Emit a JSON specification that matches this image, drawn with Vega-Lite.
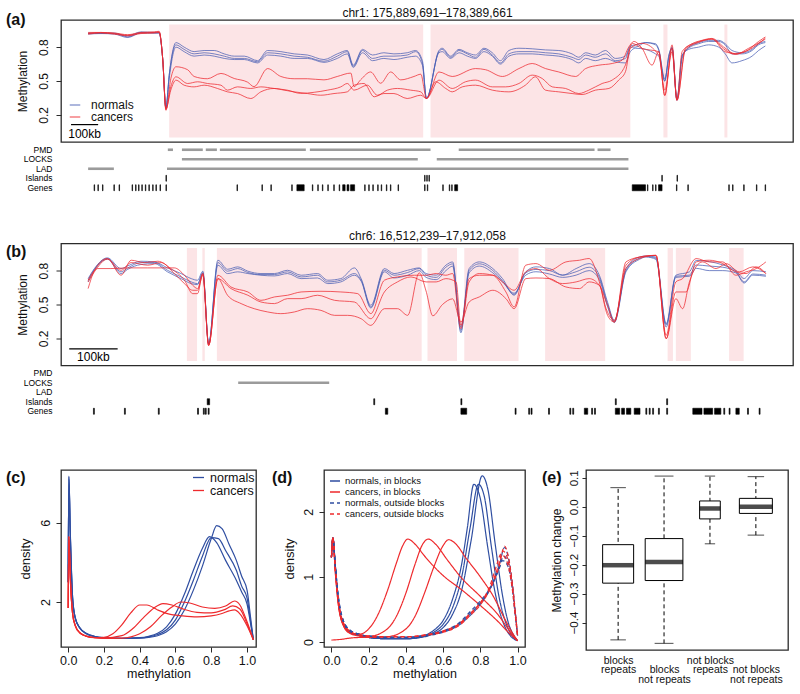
{
"$schema":"https://vega.github.io/schema/vega-lite/v6.json",
"background":"white",
"padding":5,
"config":{
 "font":"Liberation Sans",
 "view":{"stroke":"#2b2b2b","strokeWidth":1.3},
 "axis":{"domain":false,"grid":false,"ticks":true,"tickColor":"#2b2b2b","tickSize":5,"labelColor":"#111","titleColor":"#111","labelFontSize":12,"titleFontSize":12,"titleFontWeight":"normal","labelPadding":3},
 "axisY":{"labelOverlap":false},
 "legend":{"labelColor":"#111","padding":0,"rowPadding":0,"titlePadding":0},
 "title":{"color":"#111","fontWeight":"normal","font":"Liberation Sans"}
},
"datasets":{
"a_lines":[
{"s":"n1","g":"normals","x":0,"y":0.92},{"s":"n1","g":"normals","x":47,"y":0.925},{"s":"n1","g":"normals","x":97,"y":0.92},{"s":"n1","g":"normals","x":146,"y":0.9},{"s":"n1","g":"normals","x":195,"y":0.935},{"s":"n1","g":"normals","x":244,"y":0.93},{"s":"n1","g":"normals","x":262,"y":0.93},{"s":"n1","g":"normals","x":275,"y":0.7},{"s":"n1","g":"normals","x":287,"y":0.26},{"s":"n1","g":"normals","x":299,"y":0.55},{"s":"n1","g":"normals","x":324,"y":0.84},{"s":"n1","g":"normals","x":354,"y":0.8},{"s":"n1","g":"normals","x":391,"y":0.76},{"s":"n1","g":"normals","x":428,"y":0.77},{"s":"n1","g":"normals","x":465,"y":0.77},{"s":"n1","g":"normals","x":502,"y":0.74},{"s":"n1","g":"normals","x":539,"y":0.72},{"s":"n1","g":"normals","x":576,"y":0.72},{"s":"n1","g":"normals","x":625,"y":0.68},{"s":"n1","g":"normals","x":662,"y":0.77},{"s":"n1","g":"normals","x":711,"y":0.76},{"s":"n1","g":"normals","x":760,"y":0.74},{"s":"n1","g":"normals","x":809,"y":0.73},{"s":"n1","g":"normals","x":870,"y":0.69},{"s":"n1","g":"normals","x":919,"y":0.74},{"s":"n1","g":"normals","x":956,"y":0.77},{"s":"n1","g":"normals","x":978,"y":0.64},{"s":"n1","g":"normals","x":1012,"y":0.78},{"s":"n1","g":"normals","x":1049,"y":0.73},{"s":"n1","g":"normals","x":1091,"y":0.75},{"s":"n1","g":"normals","x":1128,"y":0.74},{"s":"n1","g":"normals","x":1177,"y":0.75},{"s":"n1","g":"normals","x":1208,"y":0.77},{"s":"n1","g":"normals","x":1233,"y":0.68},{"s":"n1","g":"normals","x":1248,"y":0.345},{"s":"n1","g":"normals","x":1294,"y":0.77},{"s":"n1","g":"normals","x":1306,"y":0.79},{"s":"n1","g":"normals","x":1337,"y":0.72},{"s":"n1","g":"normals","x":1368,"y":0.78},{"s":"n1","g":"normals","x":1399,"y":0.75},{"s":"n1","g":"normals","x":1429,"y":0.73},{"s":"n1","g":"normals","x":1460,"y":0.79},{"s":"n1","g":"normals","x":1491,"y":0.75},{"s":"n1","g":"normals","x":1521,"y":0.68},{"s":"n1","g":"normals","x":1552,"y":0.77},{"s":"n1","g":"normals","x":1589,"y":0.79},{"s":"n1","g":"normals","x":1638,"y":0.785},{"s":"n1","g":"normals","x":1687,"y":0.775},{"s":"n1","g":"normals","x":1736,"y":0.77},{"s":"n1","g":"normals","x":1785,"y":0.74},{"s":"n1","g":"normals","x":1810,"y":0.71},{"s":"n1","g":"normals","x":1835,"y":0.75},{"s":"n1","g":"normals","x":1871,"y":0.73},{"s":"n1","g":"normals","x":1908,"y":0.77},{"s":"n1","g":"normals","x":1945,"y":0.7},{"s":"n1","g":"normals","x":1982,"y":0.72},{"s":"n1","g":"normals","x":2000,"y":0.81},{"s":"n1","g":"normals","x":2019,"y":0.82},{"s":"n1","g":"normals","x":2056,"y":0.84},{"s":"n1","g":"normals","x":2093,"y":0.83},{"s":"n1","g":"normals","x":2105,"y":0.78},{"s":"n1","g":"normals","x":2127,"y":0.52},{"s":"n1","g":"normals","x":2142,"y":0.7},{"s":"n1","g":"normals","x":2154,"y":0.79},{"s":"n1","g":"normals","x":2172,"y":0.33},{"s":"n1","g":"normals","x":2191,"y":0.7},{"s":"n1","g":"normals","x":2215,"y":0.8},{"s":"n1","g":"normals","x":2252,"y":0.84},{"s":"n1","g":"normals","x":2289,"y":0.86},{"s":"n1","g":"normals","x":2326,"y":0.86},{"s":"n1","g":"normals","x":2350,"y":0.83},{"s":"n1","g":"normals","x":2375,"y":0.77},{"s":"n1","g":"normals","x":2412,"y":0.75},{"s":"n1","g":"normals","x":2449,"y":0.78},{"s":"n1","g":"normals","x":2473,"y":0.83},{"s":"n1","g":"normals","x":2498,"y":0.85},
{"s":"n2","g":"normals","x":0,"y":0.925},{"s":"n2","g":"normals","x":47,"y":0.92},{"s":"n2","g":"normals","x":97,"y":0.925},{"s":"n2","g":"normals","x":146,"y":0.89},{"s":"n2","g":"normals","x":195,"y":0.93},{"s":"n2","g":"normals","x":244,"y":0.925},{"s":"n2","g":"normals","x":262,"y":0.925},{"s":"n2","g":"normals","x":275,"y":0.7},{"s":"n2","g":"normals","x":287,"y":0.26},{"s":"n2","g":"normals","x":299,"y":0.55},{"s":"n2","g":"normals","x":324,"y":0.82},{"s":"n2","g":"normals","x":354,"y":0.78},{"s":"n2","g":"normals","x":391,"y":0.74},{"s":"n2","g":"normals","x":428,"y":0.75},{"s":"n2","g":"normals","x":465,"y":0.74},{"s":"n2","g":"normals","x":502,"y":0.72},{"s":"n2","g":"normals","x":539,"y":0.7},{"s":"n2","g":"normals","x":576,"y":0.7},{"s":"n2","g":"normals","x":625,"y":0.67},{"s":"n2","g":"normals","x":662,"y":0.75},{"s":"n2","g":"normals","x":711,"y":0.74},{"s":"n2","g":"normals","x":760,"y":0.72},{"s":"n2","g":"normals","x":809,"y":0.71},{"s":"n2","g":"normals","x":870,"y":0.675},{"s":"n2","g":"normals","x":919,"y":0.72},{"s":"n2","g":"normals","x":956,"y":0.76},{"s":"n2","g":"normals","x":978,"y":0.63},{"s":"n2","g":"normals","x":1012,"y":0.77},{"s":"n2","g":"normals","x":1049,"y":0.7},{"s":"n2","g":"normals","x":1091,"y":0.72},{"s":"n2","g":"normals","x":1128,"y":0.72},{"s":"n2","g":"normals","x":1177,"y":0.73},{"s":"n2","g":"normals","x":1208,"y":0.76},{"s":"n2","g":"normals","x":1233,"y":0.66},{"s":"n2","g":"normals","x":1248,"y":0.345},{"s":"n2","g":"normals","x":1294,"y":0.76},{"s":"n2","g":"normals","x":1306,"y":0.78},{"s":"n2","g":"normals","x":1337,"y":0.71},{"s":"n2","g":"normals","x":1368,"y":0.77},{"s":"n2","g":"normals","x":1399,"y":0.74},{"s":"n2","g":"normals","x":1429,"y":0.71},{"s":"n2","g":"normals","x":1460,"y":0.78},{"s":"n2","g":"normals","x":1491,"y":0.73},{"s":"n2","g":"normals","x":1521,"y":0.66},{"s":"n2","g":"normals","x":1552,"y":0.74},{"s":"n2","g":"normals","x":1589,"y":0.76},{"s":"n2","g":"normals","x":1638,"y":0.76},{"s":"n2","g":"normals","x":1687,"y":0.75},{"s":"n2","g":"normals","x":1736,"y":0.74},{"s":"n2","g":"normals","x":1785,"y":0.71},{"s":"n2","g":"normals","x":1810,"y":0.69},{"s":"n2","g":"normals","x":1835,"y":0.73},{"s":"n2","g":"normals","x":1871,"y":0.71},{"s":"n2","g":"normals","x":1908,"y":0.74},{"s":"n2","g":"normals","x":1945,"y":0.68},{"s":"n2","g":"normals","x":1982,"y":0.7},{"s":"n2","g":"normals","x":2000,"y":0.8},{"s":"n2","g":"normals","x":2019,"y":0.8},{"s":"n2","g":"normals","x":2056,"y":0.84},{"s":"n2","g":"normals","x":2093,"y":0.82},{"s":"n2","g":"normals","x":2105,"y":0.77},{"s":"n2","g":"normals","x":2127,"y":0.5},{"s":"n2","g":"normals","x":2142,"y":0.72},{"s":"n2","g":"normals","x":2154,"y":0.8},{"s":"n2","g":"normals","x":2172,"y":0.33},{"s":"n2","g":"normals","x":2191,"y":0.72},{"s":"n2","g":"normals","x":2215,"y":0.79},{"s":"n2","g":"normals","x":2252,"y":0.83},{"s":"n2","g":"normals","x":2289,"y":0.85},{"s":"n2","g":"normals","x":2326,"y":0.85},{"s":"n2","g":"normals","x":2350,"y":0.82},{"s":"n2","g":"normals","x":2375,"y":0.74},{"s":"n2","g":"normals","x":2412,"y":0.74},{"s":"n2","g":"normals","x":2449,"y":0.77},{"s":"n2","g":"normals","x":2473,"y":0.82},{"s":"n2","g":"normals","x":2498,"y":0.84},
{"s":"n3","g":"normals","x":0,"y":0.915},{"s":"n3","g":"normals","x":47,"y":0.92},{"s":"n3","g":"normals","x":97,"y":0.915},{"s":"n3","g":"normals","x":146,"y":0.885},{"s":"n3","g":"normals","x":195,"y":0.925},{"s":"n3","g":"normals","x":244,"y":0.925},{"s":"n3","g":"normals","x":262,"y":0.925},{"s":"n3","g":"normals","x":275,"y":0.7},{"s":"n3","g":"normals","x":287,"y":0.26},{"s":"n3","g":"normals","x":299,"y":0.52},{"s":"n3","g":"normals","x":324,"y":0.8},{"s":"n3","g":"normals","x":354,"y":0.76},{"s":"n3","g":"normals","x":391,"y":0.72},{"s":"n3","g":"normals","x":428,"y":0.73},{"s":"n3","g":"normals","x":465,"y":0.72},{"s":"n3","g":"normals","x":502,"y":0.7},{"s":"n3","g":"normals","x":539,"y":0.69},{"s":"n3","g":"normals","x":576,"y":0.69},{"s":"n3","g":"normals","x":625,"y":0.66},{"s":"n3","g":"normals","x":662,"y":0.73},{"s":"n3","g":"normals","x":711,"y":0.72},{"s":"n3","g":"normals","x":760,"y":0.7},{"s":"n3","g":"normals","x":809,"y":0.7},{"s":"n3","g":"normals","x":870,"y":0.665},{"s":"n3","g":"normals","x":919,"y":0.7},{"s":"n3","g":"normals","x":956,"y":0.74},{"s":"n3","g":"normals","x":978,"y":0.62},{"s":"n3","g":"normals","x":1012,"y":0.75},{"s":"n3","g":"normals","x":1049,"y":0.68},{"s":"n3","g":"normals","x":1091,"y":0.7},{"s":"n3","g":"normals","x":1128,"y":0.69},{"s":"n3","g":"normals","x":1177,"y":0.71},{"s":"n3","g":"normals","x":1208,"y":0.72},{"s":"n3","g":"normals","x":1233,"y":0.64},{"s":"n3","g":"normals","x":1248,"y":0.345},{"s":"n3","g":"normals","x":1294,"y":0.75},{"s":"n3","g":"normals","x":1306,"y":0.76},{"s":"n3","g":"normals","x":1337,"y":0.7},{"s":"n3","g":"normals","x":1368,"y":0.75},{"s":"n3","g":"normals","x":1399,"y":0.72},{"s":"n3","g":"normals","x":1429,"y":0.7},{"s":"n3","g":"normals","x":1460,"y":0.76},{"s":"n3","g":"normals","x":1491,"y":0.72},{"s":"n3","g":"normals","x":1521,"y":0.65},{"s":"n3","g":"normals","x":1552,"y":0.72},{"s":"n3","g":"normals","x":1589,"y":0.74},{"s":"n3","g":"normals","x":1638,"y":0.74},{"s":"n3","g":"normals","x":1687,"y":0.73},{"s":"n3","g":"normals","x":1736,"y":0.72},{"s":"n3","g":"normals","x":1785,"y":0.69},{"s":"n3","g":"normals","x":1810,"y":0.66},{"s":"n3","g":"normals","x":1835,"y":0.7},{"s":"n3","g":"normals","x":1871,"y":0.68},{"s":"n3","g":"normals","x":1908,"y":0.7},{"s":"n3","g":"normals","x":1945,"y":0.67},{"s":"n3","g":"normals","x":1982,"y":0.66},{"s":"n3","g":"normals","x":2000,"y":0.76},{"s":"n3","g":"normals","x":2019,"y":0.79},{"s":"n3","g":"normals","x":2056,"y":0.78},{"s":"n3","g":"normals","x":2093,"y":0.74},{"s":"n3","g":"normals","x":2105,"y":0.72},{"s":"n3","g":"normals","x":2127,"y":0.5},{"s":"n3","g":"normals","x":2142,"y":0.73},{"s":"n3","g":"normals","x":2154,"y":0.79},{"s":"n3","g":"normals","x":2172,"y":0.34},{"s":"n3","g":"normals","x":2191,"y":0.73},{"s":"n3","g":"normals","x":2215,"y":0.78},{"s":"n3","g":"normals","x":2252,"y":0.8},{"s":"n3","g":"normals","x":2289,"y":0.82},{"s":"n3","g":"normals","x":2326,"y":0.8},{"s":"n3","g":"normals","x":2350,"y":0.74},{"s":"n3","g":"normals","x":2375,"y":0.66},{"s":"n3","g":"normals","x":2412,"y":0.68},{"s":"n3","g":"normals","x":2449,"y":0.72},{"s":"n3","g":"normals","x":2473,"y":0.77},{"s":"n3","g":"normals","x":2498,"y":0.81},
{"s":"c1","g":"cancers","x":0,"y":0.93},{"s":"c1","g":"cancers","x":47,"y":0.93},{"s":"c1","g":"cancers","x":97,"y":0.925},{"s":"c1","g":"cancers","x":146,"y":0.91},{"s":"c1","g":"cancers","x":195,"y":0.93},{"s":"c1","g":"cancers","x":244,"y":0.935},{"s":"c1","g":"cancers","x":262,"y":0.94},{"s":"c1","g":"cancers","x":275,"y":0.7},{"s":"c1","g":"cancers","x":287,"y":0.24},{"s":"c1","g":"cancers","x":305,"y":0.52},{"s":"c1","g":"cancers","x":324,"y":0.626},{"s":"c1","g":"cancers","x":367,"y":0.6},{"s":"c1","g":"cancers","x":391,"y":0.54},{"s":"c1","g":"cancers","x":440,"y":0.52},{"s":"c1","g":"cancers","x":490,"y":0.567},{"s":"c1","g":"cancers","x":539,"y":0.522},{"s":"c1","g":"cancers","x":588,"y":0.49},{"s":"c1","g":"cancers","x":612,"y":0.45},{"s":"c1","g":"cancers","x":662,"y":0.61},{"s":"c1","g":"cancers","x":711,"y":0.54},{"s":"c1","g":"cancers","x":760,"y":0.52},{"s":"c1","g":"cancers","x":809,"y":0.52},{"s":"c1","g":"cancers","x":870,"y":0.51},{"s":"c1","g":"cancers","x":919,"y":0.54},{"s":"c1","g":"cancers","x":969,"y":0.57},{"s":"c1","g":"cancers","x":981,"y":0.45},{"s":"c1","g":"cancers","x":1005,"y":0.51},{"s":"c1","g":"cancers","x":1042,"y":0.58},{"s":"c1","g":"cancers","x":1079,"y":0.48},{"s":"c1","g":"cancers","x":1116,"y":0.58},{"s":"c1","g":"cancers","x":1153,"y":0.51},{"s":"c1","g":"cancers","x":1202,"y":0.54},{"s":"c1","g":"cancers","x":1227,"y":0.56},{"s":"c1","g":"cancers","x":1248,"y":0.345},{"s":"c1","g":"cancers","x":1294,"y":0.58},{"s":"c1","g":"cancers","x":1343,"y":0.54},{"s":"c1","g":"cancers","x":1429,"y":0.61},{"s":"c1","g":"cancers","x":1466,"y":0.6},{"s":"c1","g":"cancers","x":1528,"y":0.54},{"s":"c1","g":"cancers","x":1589,"y":0.61},{"s":"c1","g":"cancers","x":1638,"y":0.655},{"s":"c1","g":"cancers","x":1687,"y":0.61},{"s":"c1","g":"cancers","x":1736,"y":0.58},{"s":"c1","g":"cancers","x":1798,"y":0.54},{"s":"c1","g":"cancers","x":1835,"y":0.61},{"s":"c1","g":"cancers","x":1884,"y":0.64},{"s":"c1","g":"cancers","x":1933,"y":0.655},{"s":"c1","g":"cancers","x":1970,"y":0.685},{"s":"c1","g":"cancers","x":1994,"y":0.8},{"s":"c1","g":"cancers","x":2013,"y":0.85},{"s":"c1","g":"cancers","x":2043,"y":0.79},{"s":"c1","g":"cancers","x":2080,"y":0.64},{"s":"c1","g":"cancers","x":2105,"y":0.76},{"s":"c1","g":"cancers","x":2127,"y":0.37},{"s":"c1","g":"cancers","x":2154,"y":0.82},{"s":"c1","g":"cancers","x":2172,"y":0.33},{"s":"c1","g":"cancers","x":2191,"y":0.76},{"s":"c1","g":"cancers","x":2228,"y":0.83},{"s":"c1","g":"cancers","x":2264,"y":0.86},{"s":"c1","g":"cancers","x":2301,"y":0.877},{"s":"c1","g":"cancers","x":2350,"y":0.79},{"s":"c1","g":"cancers","x":2387,"y":0.74},{"s":"c1","g":"cancers","x":2424,"y":0.76},{"s":"c1","g":"cancers","x":2473,"y":0.85},{"s":"c1","g":"cancers","x":2498,"y":0.89},
{"s":"c2","g":"cancers","x":0,"y":0.92},{"s":"c2","g":"cancers","x":47,"y":0.93},{"s":"c2","g":"cancers","x":97,"y":0.92},{"s":"c2","g":"cancers","x":146,"y":0.905},{"s":"c2","g":"cancers","x":195,"y":0.925},{"s":"c2","g":"cancers","x":244,"y":0.93},{"s":"c2","g":"cancers","x":262,"y":0.935},{"s":"c2","g":"cancers","x":275,"y":0.7},{"s":"c2","g":"cancers","x":287,"y":0.25},{"s":"c2","g":"cancers","x":305,"y":0.45},{"s":"c2","g":"cancers","x":324,"y":0.537},{"s":"c2","g":"cancers","x":367,"y":0.478},{"s":"c2","g":"cancers","x":404,"y":0.493},{"s":"c2","g":"cancers","x":440,"y":0.478},{"s":"c2","g":"cancers","x":490,"y":0.463},{"s":"c2","g":"cancers","x":514,"y":0.419},{"s":"c2","g":"cancers","x":551,"y":0.448},{"s":"c2","g":"cancers","x":600,"y":0.434},{"s":"c2","g":"cancers","x":637,"y":0.448},{"s":"c2","g":"cancers","x":686,"y":0.434},{"s":"c2","g":"cancers","x":735,"y":0.419},{"s":"c2","g":"cancers","x":784,"y":0.39},{"s":"c2","g":"cancers","x":834,"y":0.4},{"s":"c2","g":"cancers","x":883,"y":0.419},{"s":"c2","g":"cancers","x":932,"y":0.448},{"s":"c2","g":"cancers","x":956,"y":0.478},{"s":"c2","g":"cancers","x":981,"y":0.419},{"s":"c2","g":"cancers","x":1030,"y":0.463},{"s":"c2","g":"cancers","x":1067,"y":0.374},{"s":"c2","g":"cancers","x":1104,"y":0.419},{"s":"c2","g":"cancers","x":1141,"y":0.434},{"s":"c2","g":"cancers","x":1190,"y":0.419},{"s":"c2","g":"cancers","x":1227,"y":0.404},{"s":"c2","g":"cancers","x":1248,"y":0.345},{"s":"c2","g":"cancers","x":1294,"y":0.508},{"s":"c2","g":"cancers","x":1343,"y":0.434},{"s":"c2","g":"cancers","x":1392,"y":0.493},{"s":"c2","g":"cancers","x":1429,"y":0.508},{"s":"c2","g":"cancers","x":1491,"y":0.448},{"s":"c2","g":"cancers","x":1540,"y":0.448},{"s":"c2","g":"cancers","x":1589,"y":0.478},{"s":"c2","g":"cancers","x":1638,"y":0.552},{"s":"c2","g":"cancers","x":1675,"y":0.522},{"s":"c2","g":"cancers","x":1712,"y":0.448},{"s":"c2","g":"cancers","x":1761,"y":0.434},{"s":"c2","g":"cancers","x":1810,"y":0.389},{"s":"c2","g":"cancers","x":1847,"y":0.419},{"s":"c2","g":"cancers","x":1896,"y":0.478},{"s":"c2","g":"cancers","x":1933,"y":0.508},{"s":"c2","g":"cancers","x":1982,"y":0.641},{"s":"c2","g":"cancers","x":2007,"y":0.833},{"s":"c2","g":"cancers","x":2043,"y":0.789},{"s":"c2","g":"cancers","x":2105,"y":0.759},{"s":"c2","g":"cancers","x":2127,"y":0.374},{"s":"c2","g":"cancers","x":2154,"y":0.789},{"s":"c2","g":"cancers","x":2172,"y":0.33},{"s":"c2","g":"cancers","x":2203,"y":0.789},{"s":"c2","g":"cancers","x":2252,"y":0.848},{"s":"c2","g":"cancers","x":2301,"y":0.871},{"s":"c2","g":"cancers","x":2350,"y":0.759},{"s":"c2","g":"cancers","x":2387,"y":0.744},{"s":"c2","g":"cancers","x":2436,"y":0.774},{"s":"c2","g":"cancers","x":2498,"y":0.88},
{"s":"c3","g":"cancers","x":0,"y":0.915},{"s":"c3","g":"cancers","x":47,"y":0.925},{"s":"c3","g":"cancers","x":97,"y":0.915},{"s":"c3","g":"cancers","x":146,"y":0.9},{"s":"c3","g":"cancers","x":195,"y":0.92},{"s":"c3","g":"cancers","x":244,"y":0.925},{"s":"c3","g":"cancers","x":262,"y":0.93},{"s":"c3","g":"cancers","x":275,"y":0.7},{"s":"c3","g":"cancers","x":287,"y":0.25},{"s":"c3","g":"cancers","x":305,"y":0.42},{"s":"c3","g":"cancers","x":324,"y":0.508},{"s":"c3","g":"cancers","x":354,"y":0.463},{"s":"c3","g":"cancers","x":391,"y":0.448},{"s":"c3","g":"cancers","x":428,"y":0.463},{"s":"c3","g":"cancers","x":477,"y":0.434},{"s":"c3","g":"cancers","x":514,"y":0.404},{"s":"c3","g":"cancers","x":551,"y":0.389},{"s":"c3","g":"cancers","x":600,"y":0.345},{"s":"c3","g":"cancers","x":637,"y":0.404},{"s":"c3","g":"cancers","x":686,"y":0.434},{"s":"c3","g":"cancers","x":723,"y":0.419},{"s":"c3","g":"cancers","x":760,"y":0.404},{"s":"c3","g":"cancers","x":809,"y":0.389},{"s":"c3","g":"cancers","x":858,"y":0.374},{"s":"c3","g":"cancers","x":907,"y":0.389},{"s":"c3","g":"cancers","x":956,"y":0.404},{"s":"c3","g":"cancers","x":981,"y":0.463},{"s":"c3","g":"cancers","x":1018,"y":0.478},{"s":"c3","g":"cancers","x":1055,"y":0.36},{"s":"c3","g":"cancers","x":1091,"y":0.389},{"s":"c3","g":"cancers","x":1128,"y":0.389},{"s":"c3","g":"cancers","x":1177,"y":0.345},{"s":"c3","g":"cancers","x":1227,"y":0.374},{"s":"c3","g":"cancers","x":1248,"y":0.345},{"s":"c3","g":"cancers","x":1282,"y":0.493},{"s":"c3","g":"cancers","x":1319,"y":0.434},{"s":"c3","g":"cancers","x":1343,"y":0.404},{"s":"c3","g":"cancers","x":1380,"y":0.448},{"s":"c3","g":"cancers","x":1429,"y":0.463},{"s":"c3","g":"cancers","x":1491,"y":0.419},{"s":"c3","g":"cancers","x":1552,"y":0.404},{"s":"c3","g":"cancers","x":1613,"y":0.463},{"s":"c3","g":"cancers","x":1650,"y":0.537},{"s":"c3","g":"cancers","x":1687,"y":0.419},{"s":"c3","g":"cancers","x":1736,"y":0.404},{"s":"c3","g":"cancers","x":1785,"y":0.389},{"s":"c3","g":"cancers","x":1822,"y":0.38},{"s":"c3","g":"cancers","x":1871,"y":0.419},{"s":"c3","g":"cancers","x":1921,"y":0.434},{"s":"c3","g":"cancers","x":1957,"y":0.508},{"s":"c3","g":"cancers","x":1982,"y":0.582},{"s":"c3","g":"cancers","x":2000,"y":0.79},{"s":"c3","g":"cancers","x":2043,"y":0.833},{"s":"c3","g":"cancers","x":2105,"y":0.729},{"s":"c3","g":"cancers","x":2127,"y":0.419},{"s":"c3","g":"cancers","x":2154,"y":0.759},{"s":"c3","g":"cancers","x":2172,"y":0.33},{"s":"c3","g":"cancers","x":2203,"y":0.774},{"s":"c3","g":"cancers","x":2252,"y":0.842},{"s":"c3","g":"cancers","x":2301,"y":0.871},{"s":"c3","g":"cancers","x":2350,"y":0.774},{"s":"c3","g":"cancers","x":2387,"y":0.735},{"s":"c3","g":"cancers","x":2436,"y":0.789},{"s":"c3","g":"cancers","x":2498,"y":0.87}
],
"a_blocks":[{"x":299,"x2":1236},{"x":1263,"x2":2000},{"x":2122,"x2":2137},{"x":2347,"x2":2358}],
"a_tracks":[
{"t":"PMD","x":294,"x2":313},{"t":"PMD","x":346,"x2":423},{"t":"PMD","x":434,"x2":475},{"t":"PMD","x":486,"x2":803},{"t":"PMD","x":818,"x2":1263},{"t":"PMD","x":1367,"x2":1868},{"t":"PMD","x":1879,"x2":1927},
{"t":"LOCKS","x":346,"x2":1216},{"t":"LOCKS","x":1286,"x2":1993},
{"t":"LAD","x":0,"x2":95},{"t":"LAD","x":291,"x2":1993},
{"t":"Islands","x":287,"x2":289},{"t":"Islands","x":1241,"x2":1243},{"t":"Islands","x":1249,"x2":1251},{"t":"Islands","x":1257,"x2":1259},{"t":"Islands","x":2116,"x2":2118},{"t":"Islands","x":2172,"x2":2174},
{"t":"Genes","x":22,"x2":24},{"t":"Genes","x":36,"x2":38},{"t":"Genes","x":53,"x2":55},{"t":"Genes","x":95,"x2":97},{"t":"Genes","x":114,"x2":116},{"t":"Genes","x":162,"x2":164},{"t":"Genes","x":175,"x2":177},{"t":"Genes","x":186,"x2":188},{"t":"Genes","x":198,"x2":200},{"t":"Genes","x":211,"x2":213},{"t":"Genes","x":224,"x2":226},{"t":"Genes","x":238,"x2":240},{"t":"Genes","x":250,"x2":252},{"t":"Genes","x":265,"x2":267},{"t":"Genes","x":287,"x2":289},{"t":"Genes","x":549,"x2":551},{"t":"Genes","x":641,"x2":643},{"t":"Genes","x":674,"x2":676},{"t":"Genes","x":751,"x2":753},{"t":"Genes","x":770,"x2":797},{"t":"Genes","x":827,"x2":829},{"t":"Genes","x":847,"x2":849},{"t":"Genes","x":864,"x2":866},{"t":"Genes","x":884,"x2":886},{"t":"Genes","x":906,"x2":908},{"t":"Genes","x":926,"x2":928},{"t":"Genes","x":939,"x2":948},{"t":"Genes","x":955,"x2":962},{"t":"Genes","x":968,"x2":983},{"t":"Genes","x":1020,"x2":1022},{"t":"Genes","x":1035,"x2":1037},{"t":"Genes","x":1050,"x2":1052},{"t":"Genes","x":1068,"x2":1070},{"t":"Genes","x":1081,"x2":1083},{"t":"Genes","x":1100,"x2":1102},{"t":"Genes","x":1115,"x2":1117},{"t":"Genes","x":1143,"x2":1145},{"t":"Genes","x":1241,"x2":1243},{"t":"Genes","x":1251,"x2":1253},{"t":"Genes","x":1308,"x2":1310},{"t":"Genes","x":1332,"x2":1334},{"t":"Genes","x":1341,"x2":1343},{"t":"Genes","x":1352,"x2":1363},{"t":"Genes","x":2007,"x2":2056},{"t":"Genes","x":2063,"x2":2065},{"t":"Genes","x":2082,"x2":2084},{"t":"Genes","x":2093,"x2":2095},{"t":"Genes","x":2104,"x2":2117},{"t":"Genes","x":2170,"x2":2172},{"t":"Genes","x":2212,"x2":2214},{"t":"Genes","x":2363,"x2":2365},{"t":"Genes","x":2377,"x2":2379},{"t":"Genes","x":2418,"x2":2420},{"t":"Genes","x":2465,"x2":2467},{"t":"Genes","x":2497,"x2":2499}
],
"b_lines":[
{"s":"n1","g":"normals","x":0,"y":0.729},{"s":"n1","g":"normals","x":13,"y":0.818},{"s":"n1","g":"normals","x":40,"y":0.913},{"s":"n1","g":"normals","x":68,"y":0.818},{"s":"n1","g":"normals","x":82,"y":0.842},{"s":"n1","g":"normals","x":109,"y":0.883},{"s":"n1","g":"normals","x":137,"y":0.877},{"s":"n1","g":"normals","x":164,"y":0.824},{"s":"n1","g":"normals","x":192,"y":0.774},{"s":"n1","g":"normals","x":213,"y":0.729},{"s":"n1","g":"normals","x":226,"y":0.715},{"s":"n1","g":"normals","x":237,"y":0.795},{"s":"n1","g":"normals","x":249,"y":0.15},{"s":"n1","g":"normals","x":268,"y":0.892},{"s":"n1","g":"normals","x":288,"y":0.812},{"s":"n1","g":"normals","x":309,"y":0.833},{"s":"n1","g":"normals","x":330,"y":0.795},{"s":"n1","g":"normals","x":357,"y":0.774},{"s":"n1","g":"normals","x":385,"y":0.774},{"s":"n1","g":"normals","x":412,"y":0.803},{"s":"n1","g":"normals","x":440,"y":0.759},{"s":"n1","g":"normals","x":474,"y":0.774},{"s":"n1","g":"normals","x":495,"y":0.715},{"s":"n1","g":"normals","x":522,"y":0.729},{"s":"n1","g":"normals","x":550,"y":0.824},{"s":"n1","g":"normals","x":564,"y":0.729},{"s":"n1","g":"normals","x":584,"y":0.493},{"s":"n1","g":"normals","x":612,"y":0.818},{"s":"n1","g":"normals","x":632,"y":0.774},{"s":"n1","g":"normals","x":660,"y":0.803},{"s":"n1","g":"normals","x":684,"y":0.824},{"s":"n1","g":"normals","x":698,"y":0.774},{"s":"n1","g":"normals","x":719,"y":0.76},{"s":"n1","g":"normals","x":739,"y":0.848},{"s":"n1","g":"normals","x":753,"y":0.877},{"s":"n1","g":"normals","x":770,"y":0.3},{"s":"n1","g":"normals","x":787,"y":0.818},{"s":"n1","g":"normals","x":808,"y":0.877},{"s":"n1","g":"normals","x":836,"y":0.818},{"s":"n1","g":"normals","x":856,"y":0.729},{"s":"n1","g":"normals","x":880,"y":0.582},{"s":"n1","g":"normals","x":904,"y":0.789},{"s":"n1","g":"normals","x":925,"y":0.833},{"s":"n1","g":"normals","x":953,"y":0.818},{"s":"n1","g":"normals","x":980,"y":0.76},{"s":"n1","g":"normals","x":1008,"y":0.818},{"s":"n1","g":"normals","x":1035,"y":0.862},{"s":"n1","g":"normals","x":1056,"y":0.759},{"s":"n1","g":"normals","x":1073,"y":0.52},{"s":"n1","g":"normals","x":1087,"y":0.36},{"s":"n1","g":"normals","x":1111,"y":0.818},{"s":"n1","g":"normals","x":1139,"y":0.92},{"s":"n1","g":"normals","x":1152,"y":0.93},{"s":"n1","g":"normals","x":1173,"y":0.92},{"s":"n1","g":"normals","x":1194,"y":0.33},{"s":"n1","g":"normals","x":1214,"y":0.759},{"s":"n1","g":"normals","x":1242,"y":0.789},{"s":"n1","g":"normals","x":1256,"y":0.89},{"s":"n1","g":"normals","x":1283,"y":0.88},{"s":"n1","g":"normals","x":1311,"y":0.85},{"s":"n1","g":"normals","x":1338,"y":0.8},{"s":"n1","g":"normals","x":1355,"y":0.73},{"s":"n1","g":"normals","x":1373,"y":0.8},{"s":"n1","g":"normals","x":1400,"y":0.79},
{"s":"n2","g":"normals","x":0,"y":0.715},{"s":"n2","g":"normals","x":13,"y":0.812},{"s":"n2","g":"normals","x":40,"y":0.907},{"s":"n2","g":"normals","x":68,"y":0.789},{"s":"n2","g":"normals","x":82,"y":0.824},{"s":"n2","g":"normals","x":109,"y":0.871},{"s":"n2","g":"normals","x":137,"y":0.871},{"s":"n2","g":"normals","x":164,"y":0.803},{"s":"n2","g":"normals","x":192,"y":0.744},{"s":"n2","g":"normals","x":213,"y":0.7},{"s":"n2","g":"normals","x":226,"y":0.685},{"s":"n2","g":"normals","x":237,"y":0.783},{"s":"n2","g":"normals","x":249,"y":0.15},{"s":"n2","g":"normals","x":268,"y":0.871},{"s":"n2","g":"normals","x":288,"y":0.795},{"s":"n2","g":"normals","x":309,"y":0.818},{"s":"n2","g":"normals","x":330,"y":0.783},{"s":"n2","g":"normals","x":357,"y":0.765},{"s":"n2","g":"normals","x":385,"y":0.765},{"s":"n2","g":"normals","x":412,"y":0.789},{"s":"n2","g":"normals","x":440,"y":0.744},{"s":"n2","g":"normals","x":474,"y":0.759},{"s":"n2","g":"normals","x":495,"y":0.7},{"s":"n2","g":"normals","x":522,"y":0.715},{"s":"n2","g":"normals","x":550,"y":0.774},{"s":"n2","g":"normals","x":564,"y":0.715},{"s":"n2","g":"normals","x":584,"y":0.478},{"s":"n2","g":"normals","x":612,"y":0.803},{"s":"n2","g":"normals","x":632,"y":0.759},{"s":"n2","g":"normals","x":660,"y":0.783},{"s":"n2","g":"normals","x":684,"y":0.818},{"s":"n2","g":"normals","x":698,"y":0.76},{"s":"n2","g":"normals","x":719,"y":0.74},{"s":"n2","g":"normals","x":739,"y":0.83},{"s":"n2","g":"normals","x":753,"y":0.86},{"s":"n2","g":"normals","x":770,"y":0.27},{"s":"n2","g":"normals","x":787,"y":0.8},{"s":"n2","g":"normals","x":808,"y":0.86},{"s":"n2","g":"normals","x":836,"y":0.8},{"s":"n2","g":"normals","x":856,"y":0.71},{"s":"n2","g":"normals","x":880,"y":0.59},{"s":"n2","g":"normals","x":904,"y":0.78},{"s":"n2","g":"normals","x":925,"y":0.81},{"s":"n2","g":"normals","x":953,"y":0.8},{"s":"n2","g":"normals","x":980,"y":0.76},{"s":"n2","g":"normals","x":1008,"y":0.79},{"s":"n2","g":"normals","x":1035,"y":0.83},{"s":"n2","g":"normals","x":1056,"y":0.74},{"s":"n2","g":"normals","x":1073,"y":0.5},{"s":"n2","g":"normals","x":1087,"y":0.35},{"s":"n2","g":"normals","x":1111,"y":0.8},{"s":"n2","g":"normals","x":1139,"y":0.91},{"s":"n2","g":"normals","x":1152,"y":0.925},{"s":"n2","g":"normals","x":1173,"y":0.91},{"s":"n2","g":"normals","x":1194,"y":0.3},{"s":"n2","g":"normals","x":1214,"y":0.75},{"s":"n2","g":"normals","x":1242,"y":0.76},{"s":"n2","g":"normals","x":1256,"y":0.85},{"s":"n2","g":"normals","x":1283,"y":0.84},{"s":"n2","g":"normals","x":1311,"y":0.83},{"s":"n2","g":"normals","x":1338,"y":0.79},{"s":"n2","g":"normals","x":1355,"y":0.7},{"s":"n2","g":"normals","x":1373,"y":0.77},{"s":"n2","g":"normals","x":1400,"y":0.76},
{"s":"n3","g":"normals","x":0,"y":0.7},{"s":"n3","g":"normals","x":13,"y":0.803},{"s":"n3","g":"normals","x":40,"y":0.901},{"s":"n3","g":"normals","x":68,"y":0.774},{"s":"n3","g":"normals","x":82,"y":0.812},{"s":"n3","g":"normals","x":109,"y":0.854},{"s":"n3","g":"normals","x":137,"y":0.862},{"s":"n3","g":"normals","x":164,"y":0.789},{"s":"n3","g":"normals","x":192,"y":0.729},{"s":"n3","g":"normals","x":213,"y":0.685},{"s":"n3","g":"normals","x":226,"y":0.676},{"s":"n3","g":"normals","x":237,"y":0.774},{"s":"n3","g":"normals","x":249,"y":0.15},{"s":"n3","g":"normals","x":268,"y":0.848},{"s":"n3","g":"normals","x":288,"y":0.774},{"s":"n3","g":"normals","x":309,"y":0.789},{"s":"n3","g":"normals","x":330,"y":0.774},{"s":"n3","g":"normals","x":357,"y":0.759},{"s":"n3","g":"normals","x":385,"y":0.753},{"s":"n3","g":"normals","x":412,"y":0.774},{"s":"n3","g":"normals","x":440,"y":0.729},{"s":"n3","g":"normals","x":474,"y":0.735},{"s":"n3","g":"normals","x":495,"y":0.685},{"s":"n3","g":"normals","x":522,"y":0.7},{"s":"n3","g":"normals","x":550,"y":0.759},{"s":"n3","g":"normals","x":564,"y":0.706},{"s":"n3","g":"normals","x":584,"y":0.469},{"s":"n3","g":"normals","x":612,"y":0.789},{"s":"n3","g":"normals","x":632,"y":0.735},{"s":"n3","g":"normals","x":660,"y":0.759},{"s":"n3","g":"normals","x":684,"y":0.8},{"s":"n3","g":"normals","x":698,"y":0.74},{"s":"n3","g":"normals","x":719,"y":0.72},{"s":"n3","g":"normals","x":739,"y":0.8},{"s":"n3","g":"normals","x":753,"y":0.84},{"s":"n3","g":"normals","x":770,"y":0.25},{"s":"n3","g":"normals","x":787,"y":0.78},{"s":"n3","g":"normals","x":808,"y":0.84},{"s":"n3","g":"normals","x":836,"y":0.78},{"s":"n3","g":"normals","x":856,"y":0.7},{"s":"n3","g":"normals","x":880,"y":0.6},{"s":"n3","g":"normals","x":904,"y":0.76},{"s":"n3","g":"normals","x":925,"y":0.79},{"s":"n3","g":"normals","x":953,"y":0.77},{"s":"n3","g":"normals","x":980,"y":0.74},{"s":"n3","g":"normals","x":1008,"y":0.76},{"s":"n3","g":"normals","x":1035,"y":0.8},{"s":"n3","g":"normals","x":1056,"y":0.72},{"s":"n3","g":"normals","x":1073,"y":0.48},{"s":"n3","g":"normals","x":1087,"y":0.34},{"s":"n3","g":"normals","x":1111,"y":0.79},{"s":"n3","g":"normals","x":1139,"y":0.9},{"s":"n3","g":"normals","x":1152,"y":0.92},{"s":"n3","g":"normals","x":1173,"y":0.9},{"s":"n3","g":"normals","x":1194,"y":0.32},{"s":"n3","g":"normals","x":1214,"y":0.74},{"s":"n3","g":"normals","x":1242,"y":0.75},{"s":"n3","g":"normals","x":1256,"y":0.82},{"s":"n3","g":"normals","x":1283,"y":0.8},{"s":"n3","g":"normals","x":1311,"y":0.8},{"s":"n3","g":"normals","x":1338,"y":0.78},{"s":"n3","g":"normals","x":1355,"y":0.69},{"s":"n3","g":"normals","x":1373,"y":0.76},{"s":"n3","g":"normals","x":1400,"y":0.75},
{"s":"c1","g":"cancers","x":0,"y":0.641},{"s":"c1","g":"cancers","x":13,"y":0.8},{"s":"c1","g":"cancers","x":40,"y":0.907},{"s":"c1","g":"cancers","x":68,"y":0.759},{"s":"c1","g":"cancers","x":89,"y":0.892},{"s":"c1","g":"cancers","x":116,"y":0.871},{"s":"c1","g":"cancers","x":144,"y":0.883},{"s":"c1","g":"cancers","x":171,"y":0.818},{"s":"c1","g":"cancers","x":199,"y":0.715},{"s":"c1","g":"cancers","x":216,"y":0.596},{"s":"c1","g":"cancers","x":226,"y":0.596},{"s":"c1","g":"cancers","x":237,"y":0.774},{"s":"c1","g":"cancers","x":249,"y":0.138},{"s":"c1","g":"cancers","x":268,"y":0.759},{"s":"c1","g":"cancers","x":295,"y":0.655},{"s":"c1","g":"cancers","x":330,"y":0.611},{"s":"c1","g":"cancers","x":357,"y":0.537},{"s":"c1","g":"cancers","x":385,"y":0.567},{"s":"c1","g":"cancers","x":412,"y":0.582},{"s":"c1","g":"cancers","x":440,"y":0.611},{"s":"c1","g":"cancers","x":481,"y":0.617},{"s":"c1","g":"cancers","x":522,"y":0.611},{"s":"c1","g":"cancers","x":557,"y":0.596},{"s":"c1","g":"cancers","x":584,"y":0.419},{"s":"c1","g":"cancers","x":612,"y":0.715},{"s":"c1","g":"cancers","x":639,"y":0.744},{"s":"c1","g":"cancers","x":674,"y":0.759},{"s":"c1","g":"cancers","x":698,"y":0.759},{"s":"c1","g":"cancers","x":719,"y":0.774},{"s":"c1","g":"cancers","x":739,"y":0.759},{"s":"c1","g":"cancers","x":753,"y":0.774},{"s":"c1","g":"cancers","x":770,"y":0.286},{"s":"c1","g":"cancers","x":787,"y":0.7},{"s":"c1","g":"cancers","x":808,"y":0.774},{"s":"c1","g":"cancers","x":836,"y":0.759},{"s":"c1","g":"cancers","x":863,"y":0.611},{"s":"c1","g":"cancers","x":880,"y":0.478},{"s":"c1","g":"cancers","x":904,"y":0.848},{"s":"c1","g":"cancers","x":925,"y":0.862},{"s":"c1","g":"cancers","x":953,"y":0.803},{"s":"c1","g":"cancers","x":987,"y":0.877},{"s":"c1","g":"cancers","x":1015,"y":0.892},{"s":"c1","g":"cancers","x":1035,"y":0.907},{"s":"c1","g":"cancers","x":1056,"y":0.7},{"s":"c1","g":"cancers","x":1073,"y":0.404},{"s":"c1","g":"cancers","x":1087,"y":0.345},{"s":"c1","g":"cancers","x":1111,"y":0.877},{"s":"c1","g":"cancers","x":1139,"y":0.92},{"s":"c1","g":"cancers","x":1173,"y":0.935},{"s":"c1","g":"cancers","x":1194,"y":0.227},{"s":"c1","g":"cancers","x":1214,"y":0.7},{"s":"c1","g":"cancers","x":1228,"y":0.729},{"s":"c1","g":"cancers","x":1256,"y":0.907},{"s":"c1","g":"cancers","x":1283,"y":0.877},{"s":"c1","g":"cancers","x":1311,"y":0.877},{"s":"c1","g":"cancers","x":1338,"y":0.759},{"s":"c1","g":"cancers","x":1359,"y":0.789},{"s":"c1","g":"cancers","x":1380,"y":0.818},{"s":"c1","g":"cancers","x":1400,"y":0.877},
{"s":"c2","g":"cancers","x":0,"y":0.7},{"s":"c2","g":"cancers","x":13,"y":0.789},{"s":"c2","g":"cancers","x":40,"y":0.901},{"s":"c2","g":"cancers","x":68,"y":0.803},{"s":"c2","g":"cancers","x":89,"y":0.871},{"s":"c2","g":"cancers","x":123,"y":0.848},{"s":"c2","g":"cancers","x":151,"y":0.871},{"s":"c2","g":"cancers","x":178,"y":0.774},{"s":"c2","g":"cancers","x":199,"y":0.685},{"s":"c2","g":"cancers","x":216,"y":0.626},{"s":"c2","g":"cancers","x":226,"y":0.626},{"s":"c2","g":"cancers","x":237,"y":0.759},{"s":"c2","g":"cancers","x":249,"y":0.138},{"s":"c2","g":"cancers","x":268,"y":0.729},{"s":"c2","g":"cancers","x":295,"y":0.641},{"s":"c2","g":"cancers","x":330,"y":0.582},{"s":"c2","g":"cancers","x":357,"y":0.522},{"s":"c2","g":"cancers","x":385,"y":0.508},{"s":"c2","g":"cancers","x":412,"y":0.552},{"s":"c2","g":"cancers","x":440,"y":0.552},{"s":"c2","g":"cancers","x":474,"y":0.582},{"s":"c2","g":"cancers","x":509,"y":0.537},{"s":"c2","g":"cancers","x":550,"y":0.522},{"s":"c2","g":"cancers","x":584,"y":0.374},{"s":"c2","g":"cancers","x":612,"y":0.611},{"s":"c2","g":"cancers","x":639,"y":0.7},{"s":"c2","g":"cancers","x":667,"y":0.744},{"s":"c2","g":"cancers","x":698,"y":0.7},{"s":"c2","g":"cancers","x":719,"y":0.7},{"s":"c2","g":"cancers","x":739,"y":0.729},{"s":"c2","g":"cancers","x":760,"y":0.7},{"s":"c2","g":"cancers","x":770,"y":0.315},{"s":"c2","g":"cancers","x":787,"y":0.729},{"s":"c2","g":"cancers","x":808,"y":0.759},{"s":"c2","g":"cancers","x":836,"y":0.759},{"s":"c2","g":"cancers","x":856,"y":0.7},{"s":"c2","g":"cancers","x":880,"y":0.626},{"s":"c2","g":"cancers","x":904,"y":0.789},{"s":"c2","g":"cancers","x":925,"y":0.818},{"s":"c2","g":"cancers","x":953,"y":0.729},{"s":"c2","g":"cancers","x":980,"y":0.685},{"s":"c2","g":"cancers","x":1008,"y":0.7},{"s":"c2","g":"cancers","x":1035,"y":0.729},{"s":"c2","g":"cancers","x":1056,"y":0.67},{"s":"c2","g":"cancers","x":1073,"y":0.493},{"s":"c2","g":"cancers","x":1087,"y":0.345},{"s":"c2","g":"cancers","x":1111,"y":0.848},{"s":"c2","g":"cancers","x":1139,"y":0.92},{"s":"c2","g":"cancers","x":1173,"y":0.935},{"s":"c2","g":"cancers","x":1194,"y":0.197},{"s":"c2","g":"cancers","x":1214,"y":0.611},{"s":"c2","g":"cancers","x":1235,"y":0.611},{"s":"c2","g":"cancers","x":1256,"y":0.877},{"s":"c2","g":"cancers","x":1283,"y":0.892},{"s":"c2","g":"cancers","x":1311,"y":0.862},{"s":"c2","g":"cancers","x":1338,"y":0.789},{"s":"c2","g":"cancers","x":1359,"y":0.774},{"s":"c2","g":"cancers","x":1380,"y":0.833},{"s":"c2","g":"cancers","x":1400,"y":0.774},
{"s":"c3","g":"cancers","x":0,"y":0.715},{"s":"c3","g":"cancers","x":20,"y":0.818},{"s":"c3","g":"cancers","x":47,"y":0.818},{"s":"c3","g":"cancers","x":82,"y":0.824},{"s":"c3","g":"cancers","x":123,"y":0.824},{"s":"c3","g":"cancers","x":151,"y":0.824},{"s":"c3","g":"cancers","x":178,"y":0.824},{"s":"c3","g":"cancers","x":199,"y":0.759},{"s":"c3","g":"cancers","x":216,"y":0.67},{"s":"c3","g":"cancers","x":226,"y":0.641},{"s":"c3","g":"cancers","x":237,"y":0.774},{"s":"c3","g":"cancers","x":249,"y":0.138},{"s":"c3","g":"cancers","x":268,"y":0.729},{"s":"c3","g":"cancers","x":288,"y":0.582},{"s":"c3","g":"cancers","x":316,"y":0.508},{"s":"c3","g":"cancers","x":343,"y":0.463},{"s":"c3","g":"cancers","x":371,"y":0.434},{"s":"c3","g":"cancers","x":398,"y":0.419},{"s":"c3","g":"cancers","x":426,"y":0.434},{"s":"c3","g":"cancers","x":453,"y":0.463},{"s":"c3","g":"cancers","x":481,"y":0.448},{"s":"c3","g":"cancers","x":509,"y":0.404},{"s":"c3","g":"cancers","x":536,"y":0.404},{"s":"c3","g":"cancers","x":564,"y":0.374},{"s":"c3","g":"cancers","x":584,"y":0.315},{"s":"c3","g":"cancers","x":612,"y":0.463},{"s":"c3","g":"cancers","x":639,"y":0.463},{"s":"c3","g":"cancers","x":660,"y":0.404},{"s":"c3","g":"cancers","x":684,"y":0.78},{"s":"c3","g":"cancers","x":698,"y":0.62},{"s":"c3","g":"cancers","x":712,"y":0.4},{"s":"c3","g":"cancers","x":732,"y":0.5},{"s":"c3","g":"cancers","x":753,"y":0.55},{"s":"c3","g":"cancers","x":770,"y":0.345},{"s":"c3","g":"cancers","x":787,"y":0.522},{"s":"c3","g":"cancers","x":808,"y":0.567},{"s":"c3","g":"cancers","x":836,"y":0.626},{"s":"c3","g":"cancers","x":863,"y":0.552},{"s":"c3","g":"cancers","x":880,"y":0.463},{"s":"c3","g":"cancers","x":904,"y":0.729},{"s":"c3","g":"cancers","x":925,"y":0.735},{"s":"c3","g":"cancers","x":953,"y":0.729},{"s":"c3","g":"cancers","x":987,"y":0.655},{"s":"c3","g":"cancers","x":1015,"y":0.641},{"s":"c3","g":"cancers","x":1035,"y":0.7},{"s":"c3","g":"cancers","x":1056,"y":0.67},{"s":"c3","g":"cancers","x":1070,"y":0.463},{"s":"c3","g":"cancers","x":1087,"y":0.36},{"s":"c3","g":"cancers","x":1111,"y":0.818},{"s":"c3","g":"cancers","x":1139,"y":0.907},{"s":"c3","g":"cancers","x":1173,"y":0.935},{"s":"c3","g":"cancers","x":1194,"y":0.197},{"s":"c3","g":"cancers","x":1214,"y":0.552},{"s":"c3","g":"cancers","x":1228,"y":0.463},{"s":"c3","g":"cancers","x":1242,"y":0.7},{"s":"c3","g":"cancers","x":1269,"y":0.877},{"s":"c3","g":"cancers","x":1297,"y":0.818},{"s":"c3","g":"cancers","x":1318,"y":0.862},{"s":"c3","g":"cancers","x":1345,"y":0.789},{"s":"c3","g":"cancers","x":1373,"y":0.833},{"s":"c3","g":"cancers","x":1400,"y":0.774}
],
"b_blocks":[{"x":204,"x2":225},{"x":236,"x2":241},{"x":266,"x2":689},{"x":701,"x2":762},{"x":777,"x2":889},{"x":944,"x2":1068},{"x":1197,"x2":1208},{"x":1214,"x2":1245},{"x":1324,"x2":1354}],
"b_tracks":[
{"t":"LOCKS","x":310,"x2":498},
{"t":"Islands","x":246,"x2":251},{"t":"Islands","x":590,"x2":592},{"t":"Islands","x":770,"x2":772},{"t":"Islands","x":1089,"x2":1091},{"t":"Islands","x":1195,"x2":1197},
{"t":"Genes","x":11,"x2":13},{"t":"Genes","x":75,"x2":77},{"t":"Genes","x":145,"x2":147},{"t":"Genes","x":226,"x2":228},{"t":"Genes","x":238,"x2":240},{"t":"Genes","x":242,"x2":244},{"t":"Genes","x":248,"x2":250},{"t":"Genes","x":614,"x2":619},{"t":"Genes","x":770,"x2":782},{"t":"Genes","x":882,"x2":884},{"t":"Genes","x":910,"x2":912},{"t":"Genes","x":915,"x2":917},{"t":"Genes","x":951,"x2":953},{"t":"Genes","x":995,"x2":997},{"t":"Genes","x":1001,"x2":1003},{"t":"Genes","x":1025,"x2":1032},{"t":"Genes","x":1040,"x2":1042},{"t":"Genes","x":1046,"x2":1048},{"t":"Genes","x":1089,"x2":1098},{"t":"Genes","x":1102,"x2":1108},{"t":"Genes","x":1112,"x2":1121},{"t":"Genes","x":1128,"x2":1140},{"t":"Genes","x":1152,"x2":1154},{"t":"Genes","x":1159,"x2":1161},{"t":"Genes","x":1166,"x2":1168},{"t":"Genes","x":1178,"x2":1180},{"t":"Genes","x":1195,"x2":1197},{"t":"Genes","x":1249,"x2":1268},{"t":"Genes","x":1272,"x2":1290},{"t":"Genes","x":1294,"x2":1307},{"t":"Genes","x":1313,"x2":1315},{"t":"Genes","x":1324,"x2":1326},{"t":"Genes","x":1338,"x2":1345},{"t":"Genes","x":1362,"x2":1364},{"t":"Genes","x":1386,"x2":1388}
],
"c_dens":[
{"s":"n1","g":"normals","x":0,"d":3.0},{"s":"n1","g":"normals","x":0.004,"d":8.35},{"s":"n1","g":"normals","x":0.012,"d":5.5},{"s":"n1","g":"normals","x":0.025,"d":2.2},{"s":"n1","g":"normals","x":0.04,"d":1.2},{"s":"n1","g":"normals","x":0.065,"d":0.7},{"s":"n1","g":"normals","x":0.1,"d":0.42},{"s":"n1","g":"normals","x":0.15,"d":0.26},{"s":"n1","g":"normals","x":0.2,"d":0.2},{"s":"n1","g":"normals","x":0.3,"d":0.17},{"s":"n1","g":"normals","x":0.4,"d":0.2},{"s":"n1","g":"normals","x":0.45,"d":0.27},{"s":"n1","g":"normals","x":0.5,"d":0.42},{"s":"n1","g":"normals","x":0.55,"d":0.75},{"s":"n1","g":"normals","x":0.6,"d":1.4},{"s":"n1","g":"normals","x":0.65,"d":2.4},{"s":"n1","g":"normals","x":0.7,"d":3.6},{"s":"n1","g":"normals","x":0.75,"d":4.7},{"s":"n1","g":"normals","x":0.79,"d":5.3},{"s":"n1","g":"normals","x":0.83,"d":5.0},{"s":"n1","g":"normals","x":0.88,"d":4.1},{"s":"n1","g":"normals","x":0.94,"d":3.1},{"s":"n1","g":"normals","x":0.97,"d":2.5},{"s":"n1","g":"normals","x":1.0,"d":1.9},{"s":"n1","g":"normals","x":1.02,"d":0.9},{"s":"n1","g":"normals","x":1.035,"d":0.1},
{"s":"n2","g":"normals","x":0,"d":3.0},{"s":"n2","g":"normals","x":0.004,"d":8.3},{"s":"n2","g":"normals","x":0.012,"d":5.4},{"s":"n2","g":"normals","x":0.025,"d":2.2},{"s":"n2","g":"normals","x":0.04,"d":1.2},{"s":"n2","g":"normals","x":0.065,"d":0.7},{"s":"n2","g":"normals","x":0.1,"d":0.42},{"s":"n2","g":"normals","x":0.15,"d":0.26},{"s":"n2","g":"normals","x":0.2,"d":0.2},{"s":"n2","g":"normals","x":0.3,"d":0.17},{"s":"n2","g":"normals","x":0.4,"d":0.19},{"s":"n2","g":"normals","x":0.45,"d":0.24},{"s":"n2","g":"normals","x":0.5,"d":0.36},{"s":"n2","g":"normals","x":0.55,"d":0.6},{"s":"n2","g":"normals","x":0.6,"d":1.1},{"s":"n2","g":"normals","x":0.65,"d":2.0},{"s":"n2","g":"normals","x":0.7,"d":3.1},{"s":"n2","g":"normals","x":0.75,"d":4.3},{"s":"n2","g":"normals","x":0.8,"d":5.25},{"s":"n2","g":"normals","x":0.84,"d":5.2},{"s":"n2","g":"normals","x":0.88,"d":4.6},{"s":"n2","g":"normals","x":0.94,"d":3.6},{"s":"n2","g":"normals","x":0.97,"d":2.8},{"s":"n2","g":"normals","x":1.0,"d":2.2},{"s":"n2","g":"normals","x":1.02,"d":1.0},{"s":"n2","g":"normals","x":1.035,"d":0.1},
{"s":"n3","g":"normals","x":0,"d":3.0},{"s":"n3","g":"normals","x":0.004,"d":8.2},{"s":"n3","g":"normals","x":0.012,"d":5.3},{"s":"n3","g":"normals","x":0.025,"d":2.1},{"s":"n3","g":"normals","x":0.04,"d":1.15},{"s":"n3","g":"normals","x":0.065,"d":0.68},{"s":"n3","g":"normals","x":0.1,"d":0.4},{"s":"n3","g":"normals","x":0.15,"d":0.25},{"s":"n3","g":"normals","x":0.2,"d":0.19},{"s":"n3","g":"normals","x":0.3,"d":0.16},{"s":"n3","g":"normals","x":0.4,"d":0.18},{"s":"n3","g":"normals","x":0.45,"d":0.22},{"s":"n3","g":"normals","x":0.5,"d":0.3},{"s":"n3","g":"normals","x":0.55,"d":0.5},{"s":"n3","g":"normals","x":0.6,"d":0.9},{"s":"n3","g":"normals","x":0.65,"d":1.6},{"s":"n3","g":"normals","x":0.7,"d":2.6},{"s":"n3","g":"normals","x":0.75,"d":3.8},{"s":"n3","g":"normals","x":0.8,"d":5.2},{"s":"n3","g":"normals","x":0.83,"d":5.85},{"s":"n3","g":"normals","x":0.86,"d":5.7},{"s":"n3","g":"normals","x":0.9,"d":4.9},{"s":"n3","g":"normals","x":0.94,"d":4.1},{"s":"n3","g":"normals","x":0.97,"d":3.3},{"s":"n3","g":"normals","x":1.0,"d":2.6},{"s":"n3","g":"normals","x":1.02,"d":1.2},{"s":"n3","g":"normals","x":1.035,"d":0.1},
{"s":"c1","g":"cancers","x":0,"d":1.7},{"s":"c1","g":"cancers","x":0.004,"d":5.3},{"s":"c1","g":"cancers","x":0.012,"d":3.2},{"s":"c1","g":"cancers","x":0.025,"d":1.4},{"s":"c1","g":"cancers","x":0.04,"d":0.8},{"s":"c1","g":"cancers","x":0.065,"d":0.45},{"s":"c1","g":"cancers","x":0.1,"d":0.28},{"s":"c1","g":"cancers","x":0.15,"d":0.2},{"s":"c1","g":"cancers","x":0.2,"d":0.22},{"s":"c1","g":"cancers","x":0.25,"d":0.4},{"s":"c1","g":"cancers","x":0.3,"d":0.85},{"s":"c1","g":"cancers","x":0.35,"d":1.45},{"s":"c1","g":"cancers","x":0.4,"d":1.85},{"s":"c1","g":"cancers","x":0.44,"d":1.85},{"s":"c1","g":"cancers","x":0.5,"d":1.6},{"s":"c1","g":"cancers","x":0.56,"d":1.4},{"s":"c1","g":"cancers","x":0.64,"d":1.3},{"s":"c1","g":"cancers","x":0.72,"d":1.25},{"s":"c1","g":"cancers","x":0.8,"d":1.3},{"s":"c1","g":"cancers","x":0.86,"d":1.42},{"s":"c1","g":"cancers","x":0.9,"d":1.55},{"s":"c1","g":"cancers","x":0.93,"d":1.6},{"s":"c1","g":"cancers","x":0.96,"d":1.4},{"s":"c1","g":"cancers","x":1.0,"d":0.8},{"s":"c1","g":"cancers","x":1.035,"d":0.1},
{"s":"c2","g":"cancers","x":0,"d":1.7},{"s":"c2","g":"cancers","x":0.004,"d":5.3},{"s":"c2","g":"cancers","x":0.012,"d":3.2},{"s":"c2","g":"cancers","x":0.025,"d":1.4},{"s":"c2","g":"cancers","x":0.04,"d":0.8},{"s":"c2","g":"cancers","x":0.065,"d":0.45},{"s":"c2","g":"cancers","x":0.1,"d":0.28},{"s":"c2","g":"cancers","x":0.15,"d":0.2},{"s":"c2","g":"cancers","x":0.2,"d":0.18},{"s":"c2","g":"cancers","x":0.3,"d":0.3},{"s":"c2","g":"cancers","x":0.36,"d":0.65},{"s":"c2","g":"cancers","x":0.42,"d":1.2},{"s":"c2","g":"cancers","x":0.48,"d":1.7},{"s":"c2","g":"cancers","x":0.53,"d":1.92},{"s":"c2","g":"cancers","x":0.58,"d":1.85},{"s":"c2","g":"cancers","x":0.65,"d":1.62},{"s":"c2","g":"cancers","x":0.72,"d":1.48},{"s":"c2","g":"cancers","x":0.8,"d":1.45},{"s":"c2","g":"cancers","x":0.87,"d":1.6},{"s":"c2","g":"cancers","x":0.92,"d":1.8},{"s":"c2","g":"cancers","x":0.96,"d":1.65},{"s":"c2","g":"cancers","x":1.0,"d":0.9},{"s":"c2","g":"cancers","x":1.035,"d":0.1},
{"s":"c3","g":"cancers","x":0,"d":1.7},{"s":"c3","g":"cancers","x":0.004,"d":5.3},{"s":"c3","g":"cancers","x":0.012,"d":3.2},{"s":"c3","g":"cancers","x":0.025,"d":1.4},{"s":"c3","g":"cancers","x":0.04,"d":0.8},{"s":"c3","g":"cancers","x":0.065,"d":0.45},{"s":"c3","g":"cancers","x":0.1,"d":0.28},{"s":"c3","g":"cancers","x":0.15,"d":0.2},{"s":"c3","g":"cancers","x":0.2,"d":0.17},{"s":"c3","g":"cancers","x":0.3,"d":0.18},{"s":"c3","g":"cancers","x":0.4,"d":0.4},{"s":"c3","g":"cancers","x":0.46,"d":0.75},{"s":"c3","g":"cancers","x":0.52,"d":1.3},{"s":"c3","g":"cancers","x":0.58,"d":1.75},{"s":"c3","g":"cancers","x":0.63,"d":2.0},{"s":"c3","g":"cancers","x":0.68,"d":1.95},{"s":"c3","g":"cancers","x":0.75,"d":1.75},{"s":"c3","g":"cancers","x":0.82,"d":1.68},{"s":"c3","g":"cancers","x":0.88,"d":1.8},{"s":"c3","g":"cancers","x":0.93,"d":2.05},{"s":"c3","g":"cancers","x":0.96,"d":1.85},{"s":"c3","g":"cancers","x":1.0,"d":1.0},{"s":"c3","g":"cancers","x":1.035,"d":0.1}
],
"d_dens":[
{"s":"nb1","g":"normals, in blocks","x":0,"d":1.3},{"s":"nb1","g":"normals, in blocks","x":0.008,"d":1.6},{"s":"nb1","g":"normals, in blocks","x":0.02,"d":1.2},{"s":"nb1","g":"normals, in blocks","x":0.036,"d":0.65},{"s":"nb1","g":"normals, in blocks","x":0.06,"d":0.3},{"s":"nb1","g":"normals, in blocks","x":0.1,"d":0.15},{"s":"nb1","g":"normals, in blocks","x":0.15,"d":0.1},{"s":"nb1","g":"normals, in blocks","x":0.2,"d":0.07},{"s":"nb1","g":"normals, in blocks","x":0.3,"d":0.05},{"s":"nb1","g":"normals, in blocks","x":0.4,"d":0.05},{"s":"nb1","g":"normals, in blocks","x":0.5,"d":0.1},{"s":"nb1","g":"normals, in blocks","x":0.55,"d":0.18},{"s":"nb1","g":"normals, in blocks","x":0.6,"d":0.33},{"s":"nb1","g":"normals, in blocks","x":0.65,"d":0.65},{"s":"nb1","g":"normals, in blocks","x":0.7,"d":1.2},{"s":"nb1","g":"normals, in blocks","x":0.73,"d":1.75},{"s":"nb1","g":"normals, in blocks","x":0.765,"d":2.42},{"s":"nb1","g":"normals, in blocks","x":0.8,"d":2.2},{"s":"nb1","g":"normals, in blocks","x":0.84,"d":1.45},{"s":"nb1","g":"normals, in blocks","x":0.88,"d":0.75},{"s":"nb1","g":"normals, in blocks","x":0.92,"d":0.32},{"s":"nb1","g":"normals, in blocks","x":0.96,"d":0.1},{"s":"nb1","g":"normals, in blocks","x":1.0,"d":0.02},
{"s":"nb2","g":"normals, in blocks","x":0,"d":1.3},{"s":"nb2","g":"normals, in blocks","x":0.008,"d":1.6},{"s":"nb2","g":"normals, in blocks","x":0.02,"d":1.2},{"s":"nb2","g":"normals, in blocks","x":0.036,"d":0.65},{"s":"nb2","g":"normals, in blocks","x":0.06,"d":0.3},{"s":"nb2","g":"normals, in blocks","x":0.1,"d":0.15},{"s":"nb2","g":"normals, in blocks","x":0.15,"d":0.1},{"s":"nb2","g":"normals, in blocks","x":0.2,"d":0.07},{"s":"nb2","g":"normals, in blocks","x":0.3,"d":0.05},{"s":"nb2","g":"normals, in blocks","x":0.4,"d":0.05},{"s":"nb2","g":"normals, in blocks","x":0.5,"d":0.09},{"s":"nb2","g":"normals, in blocks","x":0.55,"d":0.15},{"s":"nb2","g":"normals, in blocks","x":0.6,"d":0.27},{"s":"nb2","g":"normals, in blocks","x":0.65,"d":0.52},{"s":"nb2","g":"normals, in blocks","x":0.7,"d":1.0},{"s":"nb2","g":"normals, in blocks","x":0.745,"d":1.75},{"s":"nb2","g":"normals, in blocks","x":0.79,"d":2.42},{"s":"nb2","g":"normals, in blocks","x":0.82,"d":2.25},{"s":"nb2","g":"normals, in blocks","x":0.86,"d":1.45},{"s":"nb2","g":"normals, in blocks","x":0.9,"d":0.7},{"s":"nb2","g":"normals, in blocks","x":0.94,"d":0.27},{"s":"nb2","g":"normals, in blocks","x":0.97,"d":0.1},{"s":"nb2","g":"normals, in blocks","x":1.0,"d":0.02},
{"s":"nb3","g":"normals, in blocks","x":0,"d":1.3},{"s":"nb3","g":"normals, in blocks","x":0.008,"d":1.6},{"s":"nb3","g":"normals, in blocks","x":0.02,"d":1.2},{"s":"nb3","g":"normals, in blocks","x":0.036,"d":0.65},{"s":"nb3","g":"normals, in blocks","x":0.06,"d":0.3},{"s":"nb3","g":"normals, in blocks","x":0.1,"d":0.15},{"s":"nb3","g":"normals, in blocks","x":0.15,"d":0.1},{"s":"nb3","g":"normals, in blocks","x":0.2,"d":0.07},{"s":"nb3","g":"normals, in blocks","x":0.3,"d":0.05},{"s":"nb3","g":"normals, in blocks","x":0.4,"d":0.05},{"s":"nb3","g":"normals, in blocks","x":0.5,"d":0.08},{"s":"nb3","g":"normals, in blocks","x":0.55,"d":0.13},{"s":"nb3","g":"normals, in blocks","x":0.6,"d":0.22},{"s":"nb3","g":"normals, in blocks","x":0.65,"d":0.42},{"s":"nb3","g":"normals, in blocks","x":0.7,"d":0.8},{"s":"nb3","g":"normals, in blocks","x":0.75,"d":1.55},{"s":"nb3","g":"normals, in blocks","x":0.81,"d":2.55},{"s":"nb3","g":"normals, in blocks","x":0.84,"d":2.35},{"s":"nb3","g":"normals, in blocks","x":0.88,"d":1.5},{"s":"nb3","g":"normals, in blocks","x":0.92,"d":0.7},{"s":"nb3","g":"normals, in blocks","x":0.95,"d":0.3},{"s":"nb3","g":"normals, in blocks","x":0.98,"d":0.1},{"s":"nb3","g":"normals, in blocks","x":1.0,"d":0.02},
{"s":"cb1","g":"cancers, in blocks","x":0,"d":1.3},{"s":"cb1","g":"cancers, in blocks","x":0.008,"d":1.6},{"s":"cb1","g":"cancers, in blocks","x":0.02,"d":1.1},{"s":"cb1","g":"cancers, in blocks","x":0.036,"d":0.6},{"s":"cb1","g":"cancers, in blocks","x":0.06,"d":0.28},{"s":"cb1","g":"cancers, in blocks","x":0.1,"d":0.14},{"s":"cb1","g":"cancers, in blocks","x":0.15,"d":0.12},{"s":"cb1","g":"cancers, in blocks","x":0.2,"d":0.2},{"s":"cb1","g":"cancers, in blocks","x":0.25,"d":0.42},{"s":"cb1","g":"cancers, in blocks","x":0.3,"d":0.78},{"s":"cb1","g":"cancers, in blocks","x":0.35,"d":1.22},{"s":"cb1","g":"cancers, in blocks","x":0.38,"d":1.46},{"s":"cb1","g":"cancers, in blocks","x":0.41,"d":1.58},{"s":"cb1","g":"cancers, in blocks","x":0.45,"d":1.5},{"s":"cb1","g":"cancers, in blocks","x":0.5,"d":1.32},{"s":"cb1","g":"cancers, in blocks","x":0.6,"d":1.02},{"s":"cb1","g":"cancers, in blocks","x":0.7,"d":0.8},{"s":"cb1","g":"cancers, in blocks","x":0.8,"d":0.56},{"s":"cb1","g":"cancers, in blocks","x":0.9,"d":0.3},{"s":"cb1","g":"cancers, in blocks","x":0.95,"d":0.15},{"s":"cb1","g":"cancers, in blocks","x":1.0,"d":0.02},
{"s":"cb2","g":"cancers, in blocks","x":0,"d":0.03},{"s":"cb2","g":"cancers, in blocks","x":0.05,"d":0.04},{"s":"cb2","g":"cancers, in blocks","x":0.1,"d":0.06},{"s":"cb2","g":"cancers, in blocks","x":0.2,"d":0.08},{"s":"cb2","g":"cancers, in blocks","x":0.3,"d":0.2},{"s":"cb2","g":"cancers, in blocks","x":0.35,"d":0.4},{"s":"cb2","g":"cancers, in blocks","x":0.4,"d":0.75},{"s":"cb2","g":"cancers, in blocks","x":0.45,"d":1.2},{"s":"cb2","g":"cancers, in blocks","x":0.49,"d":1.5},{"s":"cb2","g":"cancers, in blocks","x":0.52,"d":1.58},{"s":"cb2","g":"cancers, in blocks","x":0.56,"d":1.5},{"s":"cb2","g":"cancers, in blocks","x":0.62,"d":1.27},{"s":"cb2","g":"cancers, in blocks","x":0.7,"d":0.98},{"s":"cb2","g":"cancers, in blocks","x":0.8,"d":0.7},{"s":"cb2","g":"cancers, in blocks","x":0.9,"d":0.4},{"s":"cb2","g":"cancers, in blocks","x":0.95,"d":0.2},{"s":"cb2","g":"cancers, in blocks","x":1.0,"d":0.02},
{"s":"cb3","g":"cancers, in blocks","x":0,"d":1.3},{"s":"cb3","g":"cancers, in blocks","x":0.008,"d":1.6},{"s":"cb3","g":"cancers, in blocks","x":0.02,"d":1.1},{"s":"cb3","g":"cancers, in blocks","x":0.036,"d":0.6},{"s":"cb3","g":"cancers, in blocks","x":0.06,"d":0.28},{"s":"cb3","g":"cancers, in blocks","x":0.1,"d":0.13},{"s":"cb3","g":"cancers, in blocks","x":0.15,"d":0.09},{"s":"cb3","g":"cancers, in blocks","x":0.2,"d":0.07},{"s":"cb3","g":"cancers, in blocks","x":0.3,"d":0.08},{"s":"cb3","g":"cancers, in blocks","x":0.4,"d":0.2},{"s":"cb3","g":"cancers, in blocks","x":0.45,"d":0.4},{"s":"cb3","g":"cancers, in blocks","x":0.5,"d":0.75},{"s":"cb3","g":"cancers, in blocks","x":0.55,"d":1.15},{"s":"cb3","g":"cancers, in blocks","x":0.6,"d":1.48},{"s":"cb3","g":"cancers, in blocks","x":0.63,"d":1.57},{"s":"cb3","g":"cancers, in blocks","x":0.67,"d":1.5},{"s":"cb3","g":"cancers, in blocks","x":0.72,"d":1.3},{"s":"cb3","g":"cancers, in blocks","x":0.8,"d":1.0},{"s":"cb3","g":"cancers, in blocks","x":0.87,"d":0.7},{"s":"cb3","g":"cancers, in blocks","x":0.93,"d":0.36},{"s":"cb3","g":"cancers, in blocks","x":0.97,"d":0.15},{"s":"cb3","g":"cancers, in blocks","x":1.0,"d":0.02},
{"s":"no1","g":"normals, outside blocks","x":0,"d":1.3},{"s":"no1","g":"normals, outside blocks","x":0.008,"d":1.58},{"s":"no1","g":"normals, outside blocks","x":0.02,"d":1.2},{"s":"no1","g":"normals, outside blocks","x":0.036,"d":0.7},{"s":"no1","g":"normals, outside blocks","x":0.06,"d":0.35},{"s":"no1","g":"normals, outside blocks","x":0.1,"d":0.17},{"s":"no1","g":"normals, outside blocks","x":0.15,"d":0.11},{"s":"no1","g":"normals, outside blocks","x":0.2,"d":0.09},{"s":"no1","g":"normals, outside blocks","x":0.3,"d":0.07},{"s":"no1","g":"normals, outside blocks","x":0.4,"d":0.07},{"s":"no1","g":"normals, outside blocks","x":0.5,"d":0.1},{"s":"no1","g":"normals, outside blocks","x":0.6,"d":0.17},{"s":"no1","g":"normals, outside blocks","x":0.68,"d":0.28},{"s":"no1","g":"normals, outside blocks","x":0.75,"d":0.48},{"s":"no1","g":"normals, outside blocks","x":0.8,"d":0.63},{"s":"no1","g":"normals, outside blocks","x":0.85,"d":0.82},{"s":"no1","g":"normals, outside blocks","x":0.9,"d":1.12},{"s":"no1","g":"normals, outside blocks","x":0.92,"d":1.25},{"s":"no1","g":"normals, outside blocks","x":0.95,"d":1.15},{"s":"no1","g":"normals, outside blocks","x":0.97,"d":0.85},{"s":"no1","g":"normals, outside blocks","x":0.99,"d":0.35},{"s":"no1","g":"normals, outside blocks","x":1.0,"d":0.1},
{"s":"no2","g":"normals, outside blocks","x":0,"d":1.3},{"s":"no2","g":"normals, outside blocks","x":0.008,"d":1.58},{"s":"no2","g":"normals, outside blocks","x":0.02,"d":1.2},{"s":"no2","g":"normals, outside blocks","x":0.036,"d":0.72},{"s":"no2","g":"normals, outside blocks","x":0.06,"d":0.36},{"s":"no2","g":"normals, outside blocks","x":0.1,"d":0.18},{"s":"no2","g":"normals, outside blocks","x":0.15,"d":0.12},{"s":"no2","g":"normals, outside blocks","x":0.2,"d":0.09},{"s":"no2","g":"normals, outside blocks","x":0.3,"d":0.07},{"s":"no2","g":"normals, outside blocks","x":0.4,"d":0.07},{"s":"no2","g":"normals, outside blocks","x":0.5,"d":0.1},{"s":"no2","g":"normals, outside blocks","x":0.6,"d":0.16},{"s":"no2","g":"normals, outside blocks","x":0.68,"d":0.27},{"s":"no2","g":"normals, outside blocks","x":0.75,"d":0.45},{"s":"no2","g":"normals, outside blocks","x":0.8,"d":0.6},{"s":"no2","g":"normals, outside blocks","x":0.85,"d":0.8},{"s":"no2","g":"normals, outside blocks","x":0.9,"d":1.12},{"s":"no2","g":"normals, outside blocks","x":0.925,"d":1.32},{"s":"no2","g":"normals, outside blocks","x":0.95,"d":1.22},{"s":"no2","g":"normals, outside blocks","x":0.97,"d":0.9},{"s":"no2","g":"normals, outside blocks","x":0.99,"d":0.38},{"s":"no2","g":"normals, outside blocks","x":1.0,"d":0.1},
{"s":"no3","g":"normals, outside blocks","x":0,"d":1.3},{"s":"no3","g":"normals, outside blocks","x":0.008,"d":1.58},{"s":"no3","g":"normals, outside blocks","x":0.02,"d":1.2},{"s":"no3","g":"normals, outside blocks","x":0.036,"d":0.72},{"s":"no3","g":"normals, outside blocks","x":0.06,"d":0.36},{"s":"no3","g":"normals, outside blocks","x":0.1,"d":0.18},{"s":"no3","g":"normals, outside blocks","x":0.15,"d":0.12},{"s":"no3","g":"normals, outside blocks","x":0.2,"d":0.09},{"s":"no3","g":"normals, outside blocks","x":0.3,"d":0.07},{"s":"no3","g":"normals, outside blocks","x":0.4,"d":0.07},{"s":"no3","g":"normals, outside blocks","x":0.5,"d":0.09},{"s":"no3","g":"normals, outside blocks","x":0.6,"d":0.15},{"s":"no3","g":"normals, outside blocks","x":0.68,"d":0.25},{"s":"no3","g":"normals, outside blocks","x":0.75,"d":0.42},{"s":"no3","g":"normals, outside blocks","x":0.8,"d":0.58},{"s":"no3","g":"normals, outside blocks","x":0.85,"d":0.8},{"s":"no3","g":"normals, outside blocks","x":0.9,"d":1.15},{"s":"no3","g":"normals, outside blocks","x":0.93,"d":1.45},{"s":"no3","g":"normals, outside blocks","x":0.95,"d":1.3},{"s":"no3","g":"normals, outside blocks","x":0.97,"d":0.95},{"s":"no3","g":"normals, outside blocks","x":0.99,"d":0.4},{"s":"no3","g":"normals, outside blocks","x":1.0,"d":0.1},
{"s":"co1","g":"cancers, outside blocks","x":0,"d":1.3},{"s":"co1","g":"cancers, outside blocks","x":0.008,"d":1.6},{"s":"co1","g":"cancers, outside blocks","x":0.02,"d":1.15},{"s":"co1","g":"cancers, outside blocks","x":0.036,"d":0.66},{"s":"co1","g":"cancers, outside blocks","x":0.06,"d":0.32},{"s":"co1","g":"cancers, outside blocks","x":0.1,"d":0.16},{"s":"co1","g":"cancers, outside blocks","x":0.15,"d":0.11},{"s":"co1","g":"cancers, outside blocks","x":0.2,"d":0.09},{"s":"co1","g":"cancers, outside blocks","x":0.3,"d":0.08},{"s":"co1","g":"cancers, outside blocks","x":0.4,"d":0.08},{"s":"co1","g":"cancers, outside blocks","x":0.5,"d":0.11},{"s":"co1","g":"cancers, outside blocks","x":0.6,"d":0.17},{"s":"co1","g":"cancers, outside blocks","x":0.68,"d":0.27},{"s":"co1","g":"cancers, outside blocks","x":0.75,"d":0.45},{"s":"co1","g":"cancers, outside blocks","x":0.8,"d":0.6},{"s":"co1","g":"cancers, outside blocks","x":0.85,"d":0.85},{"s":"co1","g":"cancers, outside blocks","x":0.89,"d":1.2},{"s":"co1","g":"cancers, outside blocks","x":0.91,"d":1.35},{"s":"co1","g":"cancers, outside blocks","x":0.94,"d":1.25},{"s":"co1","g":"cancers, outside blocks","x":0.97,"d":0.85},{"s":"co1","g":"cancers, outside blocks","x":0.99,"d":0.35},{"s":"co1","g":"cancers, outside blocks","x":1.0,"d":0.1},
{"s":"co2","g":"cancers, outside blocks","x":0,"d":1.3},{"s":"co2","g":"cancers, outside blocks","x":0.008,"d":1.6},{"s":"co2","g":"cancers, outside blocks","x":0.02,"d":1.15},{"s":"co2","g":"cancers, outside blocks","x":0.036,"d":0.66},{"s":"co2","g":"cancers, outside blocks","x":0.06,"d":0.32},{"s":"co2","g":"cancers, outside blocks","x":0.1,"d":0.16},{"s":"co2","g":"cancers, outside blocks","x":0.15,"d":0.11},{"s":"co2","g":"cancers, outside blocks","x":0.2,"d":0.09},{"s":"co2","g":"cancers, outside blocks","x":0.3,"d":0.08},{"s":"co2","g":"cancers, outside blocks","x":0.4,"d":0.08},{"s":"co2","g":"cancers, outside blocks","x":0.5,"d":0.1},{"s":"co2","g":"cancers, outside blocks","x":0.6,"d":0.16},{"s":"co2","g":"cancers, outside blocks","x":0.68,"d":0.26},{"s":"co2","g":"cancers, outside blocks","x":0.75,"d":0.44},{"s":"co2","g":"cancers, outside blocks","x":0.8,"d":0.6},{"s":"co2","g":"cancers, outside blocks","x":0.85,"d":0.82},{"s":"co2","g":"cancers, outside blocks","x":0.9,"d":1.2},{"s":"co2","g":"cancers, outside blocks","x":0.92,"d":1.4},{"s":"co2","g":"cancers, outside blocks","x":0.95,"d":1.25},{"s":"co2","g":"cancers, outside blocks","x":0.97,"d":0.9},{"s":"co2","g":"cancers, outside blocks","x":0.99,"d":0.38},{"s":"co2","g":"cancers, outside blocks","x":1.0,"d":0.1},
{"s":"co3","g":"cancers, outside blocks","x":0,"d":1.3},{"s":"co3","g":"cancers, outside blocks","x":0.008,"d":1.6},{"s":"co3","g":"cancers, outside blocks","x":0.02,"d":1.15},{"s":"co3","g":"cancers, outside blocks","x":0.036,"d":0.66},{"s":"co3","g":"cancers, outside blocks","x":0.06,"d":0.32},{"s":"co3","g":"cancers, outside blocks","x":0.1,"d":0.16},{"s":"co3","g":"cancers, outside blocks","x":0.15,"d":0.11},{"s":"co3","g":"cancers, outside blocks","x":0.2,"d":0.09},{"s":"co3","g":"cancers, outside blocks","x":0.3,"d":0.08},{"s":"co3","g":"cancers, outside blocks","x":0.4,"d":0.08},{"s":"co3","g":"cancers, outside blocks","x":0.5,"d":0.1},{"s":"co3","g":"cancers, outside blocks","x":0.6,"d":0.15},{"s":"co3","g":"cancers, outside blocks","x":0.68,"d":0.24},{"s":"co3","g":"cancers, outside blocks","x":0.75,"d":0.42},{"s":"co3","g":"cancers, outside blocks","x":0.8,"d":0.57},{"s":"co3","g":"cancers, outside blocks","x":0.85,"d":0.8},{"s":"co3","g":"cancers, outside blocks","x":0.9,"d":1.15},{"s":"co3","g":"cancers, outside blocks","x":0.93,"d":1.47},{"s":"co3","g":"cancers, outside blocks","x":0.95,"d":1.32},{"s":"co3","g":"cancers, outside blocks","x":0.97,"d":0.95},{"s":"co3","g":"cancers, outside blocks","x":0.99,"d":0.4},{"s":"co3","g":"cancers, outside blocks","x":1.0,"d":0.1}
],
"e_box":[
{"k":"blocks repeats","lo":-0.46,"q1":-0.264,"med":-0.202,"q3":-0.131,"hi":0.066,"n":67.6},
{"k":"blocks not repeats","lo":-0.472,"q1":-0.255,"med":-0.191,"q3":-0.11,"hi":0.106,"n":100},
{"k":"not blocks repeats","lo":-0.128,"q1":-0.042,"med":-0.006,"q3":0.02,"hi":0.106,"n":30.1},
{"k":"not blocks not repeats","lo":-0.098,"q1":-0.023,"med":0.0,"q3":0.029,"hi":0.104,"n":76.6}
]
},
"spacing":35.5,
"resolve":{"scale":{"color":"independent","strokeDash":"independent","size":"independent"},"legend":{"color":"independent","strokeDash":"independent","size":"independent"}},
"vconcat":[
{
 "spacing":2,
 "vconcat":[
 {
  "width":732,"height":122,
  "title":{"text":"(a)","anchor":"start","frame":"group","fontSize":16,"fontWeight":"bold","baseline":"alphabetic","offset":0,"dx":-55,"dy":35},
  "layer":[
   {"data":{"name":"a_blocks"},"mark":{"type":"rect","color":"#fce4e6"},
    "encoding":{"x":{"field":"x","type":"quantitative","scale":{"domain":[-100,2600],"nice":false,"zero":false},"axis":{"orient":"top","labels":false,"ticks":false,"domain":false,"title":"chr1: 175,889,691–178,389,661","titleFontSize":12,"titlePadding":1}},"x2":{"field":"x2"},
     "y":{"datum":0,"type":"quantitative","scale":{"domain":[-0.04,1.04],"nice":false,"zero":false},"axis":{"values":[0.2,0.5,0.8],"title":"Methylation","labelAngle":270,"labelAlign":"center","labelBaseline":"bottom","tickSize":5,"labelPadding":6,"titlePadding":8}},"y2":{"datum":1}}},
   {"data":{"name":"a_lines"},"transform":[{"filter":"datum.g=='normals'"}],"mark":{"type":"line","interpolate":"monotone","strokeWidth":1,"opacity":0.75},
    "encoding":{"x":{"field":"x","type":"quantitative"},
     "y":{"field":"y","type":"quantitative"},
     "color":{"field":"g","type":"nominal","scale":{"domain":["normals","cancers"],"range":["#4a5fb4","#ee2a30"]},"legend":{"title":null,"orient":"none","legendX":8,"legendY":79,"symbolType":"stroke","symbolSize":110,"symbolStrokeWidth":1.2,"labelFontSize":12,"labelOffset":10,"rowPadding":0}},
     "detail":{"field":"s"}}},
   {"data":{"name":"a_lines"},"transform":[{"filter":"datum.g=='cancers'"}],"mark":{"type":"line","interpolate":"monotone","strokeWidth":1,"opacity":0.75},
    "encoding":{"x":{"field":"x","type":"quantitative"},"y":{"field":"y","type":"quantitative"},
     "color":{"field":"g","type":"nominal","scale":{"domain":["normals","cancers"],"range":["#4a5fb4","#ee2a30"]}},
     "detail":{"field":"s"}}},
   {"data":{"values":[{"start":-63,"end":37,"label":"100kb"}]},"mark":{"type":"rule","color":"black","strokeWidth":1.2},
    "encoding":{"x":{"field":"start","type":"quantitative"},"x2":{"field":"end"},"y":{"datum":0.114,"type":"quantitative"}}},
   {"data":{"values":[{"start":-63,"end":37,"label":"100kb"}]},"transform":[{"calculate":"(datum.start+datum.end)/2","as":"mid"}],"mark":{"type":"text","fontSize":12,"baseline":"alphabetic","align":"center","color":"black"},
    "encoding":{"x":{"field":"mid","type":"quantitative"},"y":{"datum":-0.004,"type":"quantitative"},"text":{"field":"label"}}}
  ]
 },
 {
  "width":732,"height":47.5,"view":{"stroke":null},
  "data":{"name":"a_tracks"},
  "layer":[
   {"transform":[{"filter":"datum.t=='PMD'||datum.t=='LOCKS'||datum.t=='LAD'"}],"mark":{"type":"bar","color":"#9b9b9b","size":2.6},
    "encoding":{"x":{"field":"x","type":"quantitative","scale":{"domain":[-100,2600],"nice":false,"zero":false},"axis":null},"x2":{"field":"x2"},
     "y":{"field":"t","type":"nominal","scale":{"domain":["PMD","LOCKS","LAD","Islands","Genes"],"paddingInner":0,"paddingOuter":0},"axis":{"title":null,"ticks":false,"labelFontSize":8.5,"labelPadding":9,"labelColor":"black"}}}},
   {"transform":[{"filter":"datum.t=='Islands'||datum.t=='Genes'"}],"mark":{"type":"bar","color":"black","size":6,"stroke":"black","strokeWidth":0.6},
    "encoding":{"x":{"field":"x","type":"quantitative","axis":null},"x2":{"field":"x2"},"y":{"field":"t","type":"nominal"}}}
  ]
 }
 ]
},
{
 "spacing":52.5,
 "resolve":{"scale":{"color":"independent","strokeDash":"independent","size":"independent"},"legend":{"color":"independent","strokeDash":"independent","size":"independent"}},
 "vconcat":[
 {
  "spacing":2,
  "vconcat":[
  {
   "width":732,"height":122,
   "title":{"text":"(b)","anchor":"start","frame":"group","fontSize":16,"fontWeight":"bold","baseline":"alphabetic","offset":0,"dx":-55,"dy":43},
   "layer":[
    {"data":{"name":"b_blocks"},"mark":{"type":"rect","color":"#fce4e6"},
     "encoding":{"x":{"field":"x","type":"quantitative","scale":{"domain":[-56,1456],"nice":false,"zero":false},"axis":{"orient":"top","labels":false,"ticks":false,"domain":false,"title":"chr6: 16,512,239–17,912,058","titleFontSize":12,"titlePadding":1}},"x2":{"field":"x2"},
      "y":{"datum":0,"type":"quantitative","scale":{"domain":[-0.04,1.04],"nice":false,"zero":false},"axis":{"values":[0.2,0.5,0.8],"title":"Methylation","labelAngle":270,"labelAlign":"center","labelBaseline":"bottom","tickSize":5,"labelPadding":6,"titlePadding":8}},"y2":{"datum":1}}},
    {"data":{"name":"b_lines"},"transform":[{"filter":"datum.g=='normals'"}],"mark":{"type":"line","interpolate":"monotone","strokeWidth":1,"opacity":0.75},
     "encoding":{"x":{"field":"x","type":"quantitative"},
      "y":{"field":"y","type":"quantitative"},
      "color":{"field":"g","type":"nominal","scale":{"domain":["normals","cancers"],"range":["#4a5fb4","#ee2a30"]},"legend":null},
      "detail":{"field":"s"}}},
    {"data":{"name":"b_lines"},"transform":[{"filter":"datum.g=='cancers'"}],"mark":{"type":"line","interpolate":"monotone","strokeWidth":1,"opacity":0.75},
     "encoding":{"x":{"field":"x","type":"quantitative"},"y":{"field":"y","type":"quantitative"},
      "color":{"field":"g","type":"nominal","scale":{"domain":["normals","cancers"],"range":["#4a5fb4","#ee2a30"]},"legend":null},
      "detail":{"field":"s"}}},
    {"data":{"values":[{"start":-39,"end":61,"label":"100kb"}]},"mark":{"type":"rule","color":"black","strokeWidth":1.2},
     "encoding":{"x":{"field":"start","type":"quantitative"},"x2":{"field":"end"},"y":{"datum":0.108,"type":"quantitative"}}},
    {"data":{"values":[{"start":-39,"end":61,"label":"100kb"}]},"transform":[{"calculate":"(datum.start+datum.end)/2","as":"mid"}],"mark":{"type":"text","fontSize":12,"baseline":"alphabetic","align":"center","color":"black"},
     "encoding":{"x":{"field":"mid","type":"quantitative"},"y":{"datum":-0.001,"type":"quantitative"},"text":{"field":"label"}}}
   ]
  },
  {
   "width":732,"height":47.5,"view":{"stroke":null},
   "data":{"name":"b_tracks"},
   "layer":[
    {"transform":[{"filter":"datum.t=='PMD'||datum.t=='LOCKS'||datum.t=='LAD'"}],"mark":{"type":"bar","color":"#9b9b9b","size":2.6},
     "encoding":{"x":{"field":"x","type":"quantitative","scale":{"domain":[-56,1456],"nice":false,"zero":false},"axis":null},"x2":{"field":"x2"},
      "y":{"field":"t","type":"nominal","scale":{"domain":["PMD","LOCKS","LAD","Islands","Genes"],"paddingInner":0,"paddingOuter":0},"axis":{"title":null,"ticks":false,"labelFontSize":8.5,"labelPadding":9,"labelColor":"black"}}}},
    {"transform":[{"filter":"datum.t=='Islands'||datum.t=='Genes'"}],"mark":{"type":"bar","color":"black","size":6,"stroke":"black","strokeWidth":0.6},
     "encoding":{"x":{"field":"x","type":"quantitative","axis":null},"x2":{"field":"x2"},"y":{"field":"t","type":"nominal"}}}
   ]
  }
  ]
 },
 {
  "spacing":14,
  "resolve":{"scale":{"color":"independent","strokeDash":"independent","size":"independent"},"legend":{"color":"independent","strokeDash":"independent","size":"independent"}},
  "hconcat":[
  {
   "width":195,"height":177,
   "title":{"text":"(c)","anchor":"start","frame":"group","fontSize":16,"fontWeight":"bold","baseline":"alphabetic","offset":0,"dx":-55,"dy":29},
   "data":{"name":"c_dens"},
   "encoding":{
    "x":{"field":"x","type":"quantitative","scale":{"domain":[-0.04,1.05],"nice":false,"zero":false},"axis":{"values":[0,0.2,0.4,0.6,0.8,1],"format":".1f","title":"methylation","labelFontSize":12.5,"titleFontSize":12.5,"tickSize":5,"labelPadding":2,"titlePadding":1}},
    "y":{"field":"d","type":"quantitative","scale":{"domain":[-0.27,8.66],"nice":false,"zero":false},"axis":{"values":[2,6],"title":"density","titleFontSize":13,"labelFontSize":12.5,"labelAngle":270,"labelAlign":"center","labelBaseline":"bottom","tickSize":5,"labelPadding":4,"titlePadding":7}},
    "detail":{"field":"s"}
   },
   "layer":[
    {"transform":[{"filter":"datum.g=='normals'"}],"mark":{"type":"line","interpolate":"monotone","strokeWidth":1.2},
     "encoding":{"color":{"field":"g","type":"nominal","scale":{"domain":["normals","cancers"],"range":["#2f4ea1","#ee2a2d"]},"legend":{"title":null,"orient":"top-right","offset":1,"symbolType":"stroke","symbolSize":121,"symbolStrokeWidth":1.3,"labelFontSize":12.5,"labelOffset":5,"rowPadding":0}}}},
    {"transform":[{"filter":"datum.g=='cancers'"}],"mark":{"type":"line","interpolate":"monotone","strokeWidth":1.2},
     "encoding":{"color":{"field":"g","type":"nominal","scale":{"domain":["normals","cancers"],"range":["#2f4ea1","#ee2a2d"]}}}}
   ]
  },
  {
   "width":201,"height":177,
   "title":{"text":"(d)","anchor":"start","frame":"group","fontSize":16,"fontWeight":"bold","baseline":"alphabetic","offset":0,"dx":-52,"dy":29},
   "data":{"name":"d_dens"},
   "mark":{"type":"line","interpolate":"monotone","strokeWidth":1.2},
   "encoding":{
    "x":{"field":"x","type":"quantitative","scale":{"domain":[-0.04,1.04],"nice":false,"zero":false},"axis":{"values":[0,0.2,0.4,0.6,0.8,1],"format":".1f","title":"methylation","labelFontSize":12.5,"titleFontSize":12.5,"tickSize":5,"labelPadding":2,"titlePadding":1}},
    "y":{"field":"d","type":"quantitative","scale":{"domain":[-0.077,2.64],"nice":false,"zero":false},"axis":{"values":[0,1,2],"title":"density","titleFontSize":13,"labelFontSize":12.5,"labelAngle":270,"labelAlign":"center","labelBaseline":"bottom","tickSize":5,"labelPadding":4,"titlePadding":6}},
    "color":{"field":"g","type":"nominal","scale":{"domain":["normals, in blocks","cancers, in blocks","normals, outside blocks","cancers, outside blocks"],"range":["#2f4ea1","#ee2a2d","#2f4ea1","#ee2a2d"]},"legend":{"title":null,"orient":"top-left","offset":5,"symbolType":"stroke","symbolSize":100,"symbolStrokeWidth":1.3,"labelFontSize":9.5,"labelOffset":4,"rowPadding":0}},
    "strokeDash":{"field":"g","type":"nominal","scale":{"domain":["normals, in blocks","cancers, in blocks","normals, outside blocks","cancers, outside blocks"],"range":[[1,0],[1,0],[4,3],[4,3]]},"legend":{"title":null,"orient":"top-left","offset":5,"symbolType":"stroke","symbolSize":100,"symbolStrokeWidth":1.3,"labelFontSize":9.5,"labelOffset":4,"rowPadding":0}},
    "detail":{"field":"s"}
   }
  },
  {
   "width":202,"height":180,
   "title":{"text":"(e)","anchor":"start","frame":"group","fontSize":16,"fontWeight":"bold","baseline":"alphabetic","offset":0,"dx":-44,"dy":29},
   "data":{"name":"e_box"},
   "encoding":{"x":{"field":"k","type":"nominal","sort":null,"scale":{"type":"point","padding":0.7},"axis":{"title":null,"labelAngle":0,"ticks":false,"labelFontSize":10.5,"labelLineHeight":9.5,"labelPadding":5,"labelBaseline":"top","labelOverlap":false,"labelBound":false,"labelFlush":false,
     "labelExpr":"datum.value=='blocks repeats' ? ['blocks','repeats'] : datum.value=='blocks not repeats' ? ['','blocks','not repeats'] : datum.value=='not blocks repeats' ? ['not blocks','repeats'] : ['','not blocks','not repeats']"}}},
   "layer":[
    {"mark":{"type":"rule","color":"black","strokeDash":[4,3],"strokeWidth":1},
     "encoding":{"y":{"field":"lo","type":"quantitative","scale":{"domain":[-0.495,0.127],"nice":false,"zero":false},"axis":{"values":[-0.4,-0.3,-0.2,-0.1,0,0.1],"format":".1f","title":"Methylation change","titleFontSize":12,"labelFontSize":11.5,"labelAngle":270,"labelAlign":"center","labelBaseline":"bottom","labelOverlap":false,"tickSize":4,"labelPadding":3,"titlePadding":5}},"y2":{"field":"hi"}}},
    {"mark":{"type":"bar","fill":"white","stroke":"black","strokeWidth":1},
     "encoding":{"y":{"field":"q1","type":"quantitative","axis":{"values":[-0.4,-0.3,-0.2,-0.1,0,0.1],"format":".1f","title":"Methylation change","titleFontSize":12,"labelFontSize":11.5,"labelAngle":270,"labelAlign":"center","labelBaseline":"bottom","labelOverlap":false,"tickSize":4,"labelPadding":3,"titlePadding":5}},"y2":{"field":"q3"},"size":{"field":"n","type":"quantitative","scale":{"type":"sqrt","domain":[0,100],"range":[0,37.7]},"legend":null}}},
    {"mark":{"type":"tick","color":"black","thickness":4.5},
     "encoding":{"y":{"field":"med","type":"quantitative","axis":{"values":[-0.4,-0.3,-0.2,-0.1,0,0.1],"format":".1f","title":"Methylation change","titleFontSize":12,"labelFontSize":11.5,"labelAngle":270,"labelAlign":"center","labelBaseline":"bottom","labelOverlap":false,"tickSize":4,"labelPadding":3,"titlePadding":5}},"size":{"field":"n","type":"quantitative","scale":{"type":"sqrt","domain":[0,100],"range":[0,37.7]},"legend":null}}},
    {"mark":{"type":"tick","color":"black","thickness":1},
     "encoding":{"y":{"field":"lo","type":"quantitative","axis":{"values":[-0.4,-0.3,-0.2,-0.1,0,0.1],"format":".1f","title":"Methylation change","titleFontSize":12,"labelFontSize":11.5,"labelAngle":270,"labelAlign":"center","labelBaseline":"bottom","labelOverlap":false,"tickSize":4,"labelPadding":3,"titlePadding":5}},"size":{"field":"n","type":"quantitative","scale":{"type":"sqrt","domain":[0,100],"range":[0,18.85]},"legend":null}}},
    {"mark":{"type":"tick","color":"black","thickness":1},
     "encoding":{"y":{"field":"hi","type":"quantitative","axis":{"values":[-0.4,-0.3,-0.2,-0.1,0,0.1],"format":".1f","title":"Methylation change","titleFontSize":12,"labelFontSize":11.5,"labelAngle":270,"labelAlign":"center","labelBaseline":"bottom","labelOverlap":false,"tickSize":4,"labelPadding":3,"titlePadding":5}},"size":{"field":"n","type":"quantitative","scale":{"type":"sqrt","domain":[0,100],"range":[0,18.85]},"legend":null}}}
   ],
   "resolve":{"scale":{"size":"independent"}}
  }
  ]
 }
 ]
}
]
}
